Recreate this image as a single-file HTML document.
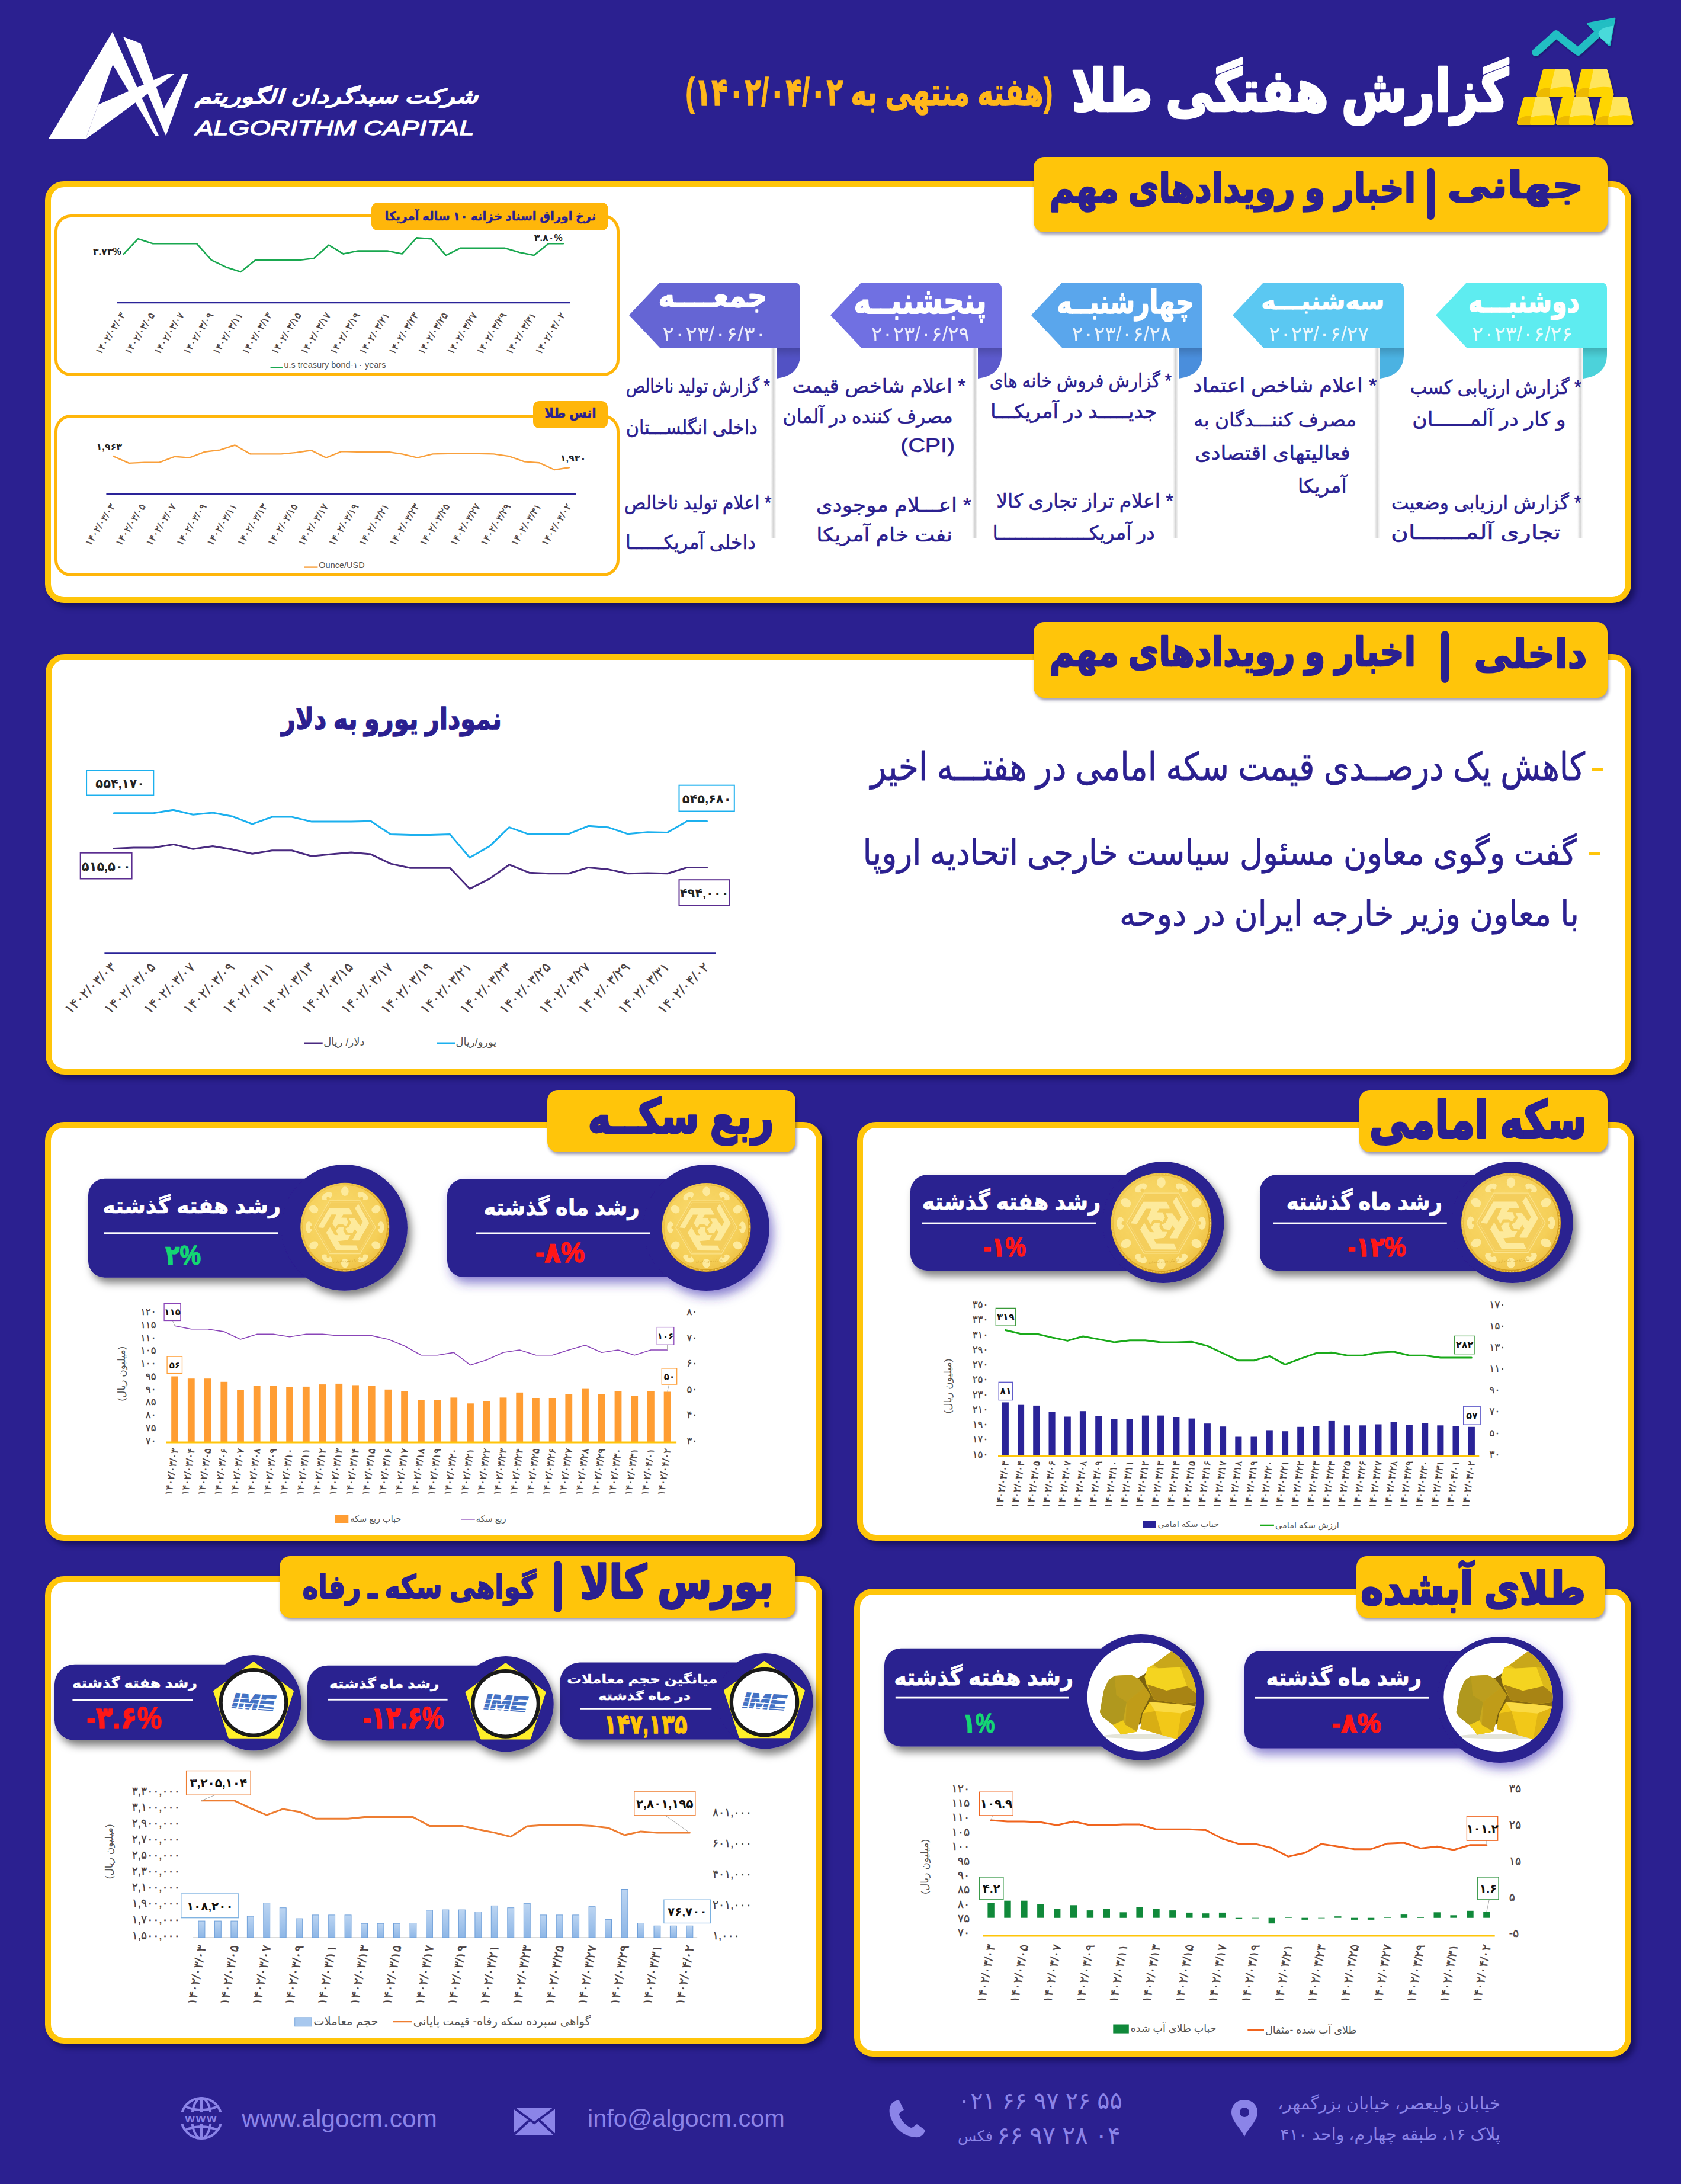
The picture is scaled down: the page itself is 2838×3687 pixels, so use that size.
<!DOCTYPE html>
<html lang="fa"><head><meta charset="utf-8"><title>گزارش هفتگی طلا</title>
<style>
html,body{margin:0;padding:0}
body{width:2838px;height:3687px;background:#2b2090;position:relative;overflow:hidden;font-family:'Liberation Sans','DejaVu Sans',sans-serif}
.b{position:absolute;box-sizing:border-box;display:block}
.t{position:absolute;display:flex;align-items:center;white-space:pre;line-height:1;box-sizing:border-box}
svg text{font-family:'Liberation Sans','DejaVu Sans',sans-serif}
</style></head><body>
<svg class="b" style="left:0.0px;top:0.0px;" width="420.0" height="260.0" viewBox="0 0 420.00 260.00"><polygon points="189.9,53.8 81.4,235.1 144.5,235.1 190.4,109.0" fill="#fff"/><polygon points="165.7,176.8 282.5,124.9 294.4,124.9 144.5,235.1" fill="#fff"/><polygon points="189.9,53.8 190.4,109.0 262.3,229.6 268.2,229.6" fill="#fff"/><polygon points="208.0,61.9 237.3,73.3 280.1,192.3 280.1,229.2" fill="#fff"/><polygon points="308.7,124.9 317.5,124.9 280.1,229.2 277.0,182.8" fill="#fff"/></svg>
<svg class="b" style="left:2540.0px;top:20.0px;" width="240.0" height="210.0" viewBox="0 0 1681 1471"><defs><filter id="sh1" x="-20%" y="-20%" width="150%" height="150%"><feDropShadow dx="8" dy="14" stdDeviation="12" flood-color="#120a50" flood-opacity=".6"/></filter></defs><g filter="url(#sh1)"><polyline points="370,480 610,265 870,470 1130,230" fill="none" stroke="#20bec3" stroke-width="92" stroke-linecap="round" stroke-linejoin="round"/><polygon points="985,140 1300,80 1240,395" fill="#20bec3" stroke="#20bec3" stroke-width="24" stroke-linejoin="round"/><path d="M1290,165 Q1110,190 1110,260 Q1120,300 1150,320 L1240,390 Z" fill="#4adada"/></g><g filter="url(#sh1)"><path d="M483,672 L732,672 Q760,672 766,700 L831,967 Q837,1005 807,1005 L403,1005 Q373,1005 379,967 L449,700 Q455,672 483,672 Z" fill="#ffd500"/><path d="M598.35,672 L732,672 Q760,672 766,700 L805,895 Q665.0,875 541.4,915 Z" fill="#ffe55c"/><path d="M379,967 Q435,885 539.4,900 L531.4,975 Q531.4,1005 551.4,1005 L403,1005 Q373,1005 379,967 Z" fill="#edb900"/><path d="M938,672 L1187,672 Q1215,672 1221,700 L1291,967 Q1297,1005 1267,1005 L863,1005 Q833,1005 839,967 L904,700 Q910,672 938,672 Z" fill="#ffd500"/><path d="M1053.35,672 L1187,672 Q1215,672 1221,700 L1265,895 Q1125.0,875 1001.4,915 Z" fill="#ffe55c"/><path d="M839,967 Q895,885 999.4,900 L991.4,975 Q991.4,1005 1011.4,1005 L863,1005 Q833,1005 839,967 Z" fill="#edb900"/><path d="M253,1005 L502,1005 Q530,1005 536,1033 L601,1300 Q607,1338 577,1338 L173,1338 Q143,1338 149,1300 L219,1033 Q225,1005 253,1005 Z" fill="#ffd500"/><path d="M368.35,1005 L502,1005 Q530,1005 536,1033 L575,1228 Q435.0,1208 311.4,1248 Z" fill="#ffe55c"/><path d="M149,1300 Q205,1218 309.4,1233 L301.4,1308 Q301.4,1338 321.4,1338 L173,1338 Q143,1338 149,1300 Z" fill="#edb900"/><path d="M708,1005 L962,1005 Q990,1005 996,1033 L1061,1300 Q1067,1338 1037,1338 L633,1338 Q603,1338 609,1300 L674,1033 Q680,1005 708,1005 Z" fill="#ffd500"/><path d="M825.7,1005 L962,1005 Q990,1005 996,1033 L1035,1228 Q895.0,1208 771.4,1248 Z" fill="#ffe55c"/><path d="M609,1300 Q665,1218 769.4,1233 L761.4,1308 Q761.4,1338 781.4,1338 L633,1338 Q603,1338 609,1300 Z" fill="#edb900"/><path d="M1168,1005 L1422,1005 Q1450,1005 1456,1033 L1521,1300 Q1527,1338 1497,1338 L1093,1338 Q1063,1338 1069,1300 L1134,1033 Q1140,1005 1168,1005 Z" fill="#ffd500"/><path d="M1285.7,1005 L1422,1005 Q1450,1005 1456,1033 L1495,1228 Q1355.0,1208 1231.4,1248 Z" fill="#ffe55c"/><path d="M1069,1300 Q1125,1218 1229.4,1233 L1221.4,1308 Q1221.4,1338 1241.4,1338 L1093,1338 Q1063,1338 1069,1300 Z" fill="#edb900"/></g></svg>
<div class="b" style="left:76.0px;top:306.0px;width:2678.0px;height:712.0px;background:#fff;border-radius:32px;border:10px solid #ffc50a;box-shadow:7px 7px 10px rgba(10,5,60,.55);"></div>
<div class="b" style="left:1745.0px;top:265.0px;width:969.0px;height:127.0px;background:#ffc50a;border-radius:18px;box-shadow:2px 4px 5px rgba(10,5,60,.4);"></div>
<div class="b" style="left:2409.0px;top:283.8px;width:13.3px;height:87.2px;background:#2b2090;border-radius:6.5px;"></div>
<div class="b" style="left:92.0px;top:362.0px;width:954.0px;height:273.0px;border-radius:28px;border:5px solid #ffb60a;"></div>
<div class="b" style="left:92.0px;top:700.0px;width:954.0px;height:273.0px;border-radius:28px;border:5px solid #ffb60a;"></div>
<div class="b" style="left:627.0px;top:342.0px;width:400.0px;height:47.0px;background:#ffb60a;border-radius:11px;"></div>
<div class="b" style="left:899.6px;top:676.7px;width:126.8px;height:46.4px;background:#ffb60a;border-radius:10px;"></div>
<svg class="b" style="left:60.0px;top:290.0px;" width="1040.0" height="740.0" viewBox="0 0 1040.00 740.00"><polyline points="148.5,139.2 173.2,113.2 198.0,121.3 222.7,121.3 247.5,121.3 272.2,121.3 297.0,149.1 321.7,160.9 346.5,168.9 371.2,149.1 396.0,149.1 420.7,149.1 445.5,149.1 470.2,146.0 495.0,123.7 519.7,138.6 544.5,133.6 569.2,133.6 593.9,133.6 618.7,138.6 643.4,111.4 668.2,113.2 692.9,141.1 717.7,128.7 742.4,128.7 767.2,128.7 791.9,128.7 816.7,136.1 841.4,141.1 866.2,121.3 890.9,121.3" fill="none" stroke="#1aa850" stroke-width="2.6" stroke-linejoin="round" stroke-linecap="round" /><line x1="137.4" x2="902.1" y1="220.9" y2="220.9" stroke="#2a2398" stroke-width="2.6"/><text transform="translate(152.5,241.9) rotate(-58)" font-size="16.5" fill="#4a4040" stroke="#4a4040" stroke-width=".3" text-anchor="end" font-weight="400" direction="ltr">۱۴۰۲/۰۳/۰۳</text><text transform="translate(202.0,241.9) rotate(-58)" font-size="16.5" fill="#4a4040" stroke="#4a4040" stroke-width=".3" text-anchor="end" font-weight="400" direction="ltr">۱۴۰۲/۰۳/۰۵</text><text transform="translate(251.5,241.9) rotate(-58)" font-size="16.5" fill="#4a4040" stroke="#4a4040" stroke-width=".3" text-anchor="end" font-weight="400" direction="ltr">۱۴۰۲/۰۳/۰۷</text><text transform="translate(301.0,241.9) rotate(-58)" font-size="16.5" fill="#4a4040" stroke="#4a4040" stroke-width=".3" text-anchor="end" font-weight="400" direction="ltr">۱۴۰۲/۰۳/۰۹</text><text transform="translate(350.5,241.9) rotate(-58)" font-size="16.5" fill="#4a4040" stroke="#4a4040" stroke-width=".3" text-anchor="end" font-weight="400" direction="ltr">۱۴۰۲/۰۳/۱۱</text><text transform="translate(400.0,241.9) rotate(-58)" font-size="16.5" fill="#4a4040" stroke="#4a4040" stroke-width=".3" text-anchor="end" font-weight="400" direction="ltr">۱۴۰۲/۰۳/۱۳</text><text transform="translate(449.5,241.9) rotate(-58)" font-size="16.5" fill="#4a4040" stroke="#4a4040" stroke-width=".3" text-anchor="end" font-weight="400" direction="ltr">۱۴۰۲/۰۳/۱۵</text><text transform="translate(499.0,241.9) rotate(-58)" font-size="16.5" fill="#4a4040" stroke="#4a4040" stroke-width=".3" text-anchor="end" font-weight="400" direction="ltr">۱۴۰۲/۰۳/۱۷</text><text transform="translate(548.5,241.9) rotate(-58)" font-size="16.5" fill="#4a4040" stroke="#4a4040" stroke-width=".3" text-anchor="end" font-weight="400" direction="ltr">۱۴۰۲/۰۳/۱۹</text><text transform="translate(597.9,241.9) rotate(-58)" font-size="16.5" fill="#4a4040" stroke="#4a4040" stroke-width=".3" text-anchor="end" font-weight="400" direction="ltr">۱۴۰۲/۰۳/۲۱</text><text transform="translate(647.4,241.9) rotate(-58)" font-size="16.5" fill="#4a4040" stroke="#4a4040" stroke-width=".3" text-anchor="end" font-weight="400" direction="ltr">۱۴۰۲/۰۳/۲۳</text><text transform="translate(696.9,241.9) rotate(-58)" font-size="16.5" fill="#4a4040" stroke="#4a4040" stroke-width=".3" text-anchor="end" font-weight="400" direction="ltr">۱۴۰۲/۰۳/۲۵</text><text transform="translate(746.4,241.9) rotate(-58)" font-size="16.5" fill="#4a4040" stroke="#4a4040" stroke-width=".3" text-anchor="end" font-weight="400" direction="ltr">۱۴۰۲/۰۳/۲۷</text><text transform="translate(795.9,241.9) rotate(-58)" font-size="16.5" fill="#4a4040" stroke="#4a4040" stroke-width=".3" text-anchor="end" font-weight="400" direction="ltr">۱۴۰۲/۰۳/۲۹</text><text transform="translate(845.4,241.9) rotate(-58)" font-size="16.5" fill="#4a4040" stroke="#4a4040" stroke-width=".3" text-anchor="end" font-weight="400" direction="ltr">۱۴۰۲/۰۳/۳۱</text><text transform="translate(894.9,241.9) rotate(-58)" font-size="16.5" fill="#4a4040" stroke="#4a4040" stroke-width=".3" text-anchor="end" font-weight="400" direction="ltr">۱۴۰۲/۰۴/۰۲</text><line x1="396.6" x2="417.6" y1="330.4" y2="330.4" stroke="#1aa850" stroke-width="2.4"/><text x="419.5" y="331.0" font-size="14.5" fill="#555" direction="ltr">u.s treasury bond-۱۰ years</text><text x="144.8" y="139.8" font-size="16" font-weight="700" fill="#222" text-anchor="end" direction="ltr">۳.۷۳%</text><text x="889.7" y="116.9" font-size="16" font-weight="700" fill="#222" text-anchor="end" direction="ltr">۳.۸۰%</text><polyline points="131.2,480.1 157.8,491.9 183.8,490.6 209.1,490.6 235.1,480.7 259.9,482.6 285.8,472.7 311.2,469.6 336.6,461.5 362.6,476.4 388.5,476.4 414.5,476.4 440.5,473.9 465.3,470.2 490.6,482.6 516.6,472.1 542.6,472.7 568.0,472.7 593.9,472.7 618.7,476.4 644.7,482.6 670.7,476.4 696.7,475.8 722.6,475.8 748.6,475.8 773.4,476.4 799.4,480.1 825.3,489.4 850.1,491.2 876.1,503.0 900.8,499.3" fill="none" stroke="#f9a03c" stroke-width="2.4" stroke-linejoin="round" stroke-linecap="round" /><line x1="119.4" x2="912.6" y1="543.8" y2="543.8" stroke="#2a2398" stroke-width="2.6"/><text transform="translate(135.2,564.9) rotate(-58)" font-size="16.5" fill="#4a4040" stroke="#4a4040" stroke-width=".3" text-anchor="end" font-weight="400" direction="ltr">۱۴۰۲/۰۳/۰۳</text><text transform="translate(186.5,564.9) rotate(-58)" font-size="16.5" fill="#4a4040" stroke="#4a4040" stroke-width=".3" text-anchor="end" font-weight="400" direction="ltr">۱۴۰۲/۰۳/۰۵</text><text transform="translate(237.9,564.9) rotate(-58)" font-size="16.5" fill="#4a4040" stroke="#4a4040" stroke-width=".3" text-anchor="end" font-weight="400" direction="ltr">۱۴۰۲/۰۳/۰۷</text><text transform="translate(289.2,564.9) rotate(-58)" font-size="16.5" fill="#4a4040" stroke="#4a4040" stroke-width=".3" text-anchor="end" font-weight="400" direction="ltr">۱۴۰۲/۰۳/۰۹</text><text transform="translate(340.6,564.9) rotate(-58)" font-size="16.5" fill="#4a4040" stroke="#4a4040" stroke-width=".3" text-anchor="end" font-weight="400" direction="ltr">۱۴۰۲/۰۳/۱۱</text><text transform="translate(391.9,564.9) rotate(-58)" font-size="16.5" fill="#4a4040" stroke="#4a4040" stroke-width=".3" text-anchor="end" font-weight="400" direction="ltr">۱۴۰۲/۰۳/۱۳</text><text transform="translate(443.3,564.9) rotate(-58)" font-size="16.5" fill="#4a4040" stroke="#4a4040" stroke-width=".3" text-anchor="end" font-weight="400" direction="ltr">۱۴۰۲/۰۳/۱۵</text><text transform="translate(494.6,564.9) rotate(-58)" font-size="16.5" fill="#4a4040" stroke="#4a4040" stroke-width=".3" text-anchor="end" font-weight="400" direction="ltr">۱۴۰۲/۰۳/۱۷</text><text transform="translate(546.0,564.9) rotate(-58)" font-size="16.5" fill="#4a4040" stroke="#4a4040" stroke-width=".3" text-anchor="end" font-weight="400" direction="ltr">۱۴۰۲/۰۳/۱۹</text><text transform="translate(597.3,564.9) rotate(-58)" font-size="16.5" fill="#4a4040" stroke="#4a4040" stroke-width=".3" text-anchor="end" font-weight="400" direction="ltr">۱۴۰۲/۰۳/۲۱</text><text transform="translate(648.7,564.9) rotate(-58)" font-size="16.5" fill="#4a4040" stroke="#4a4040" stroke-width=".3" text-anchor="end" font-weight="400" direction="ltr">۱۴۰۲/۰۳/۲۳</text><text transform="translate(700.0,564.9) rotate(-58)" font-size="16.5" fill="#4a4040" stroke="#4a4040" stroke-width=".3" text-anchor="end" font-weight="400" direction="ltr">۱۴۰۲/۰۳/۲۵</text><text transform="translate(751.4,564.9) rotate(-58)" font-size="16.5" fill="#4a4040" stroke="#4a4040" stroke-width=".3" text-anchor="end" font-weight="400" direction="ltr">۱۴۰۲/۰۳/۲۷</text><text transform="translate(802.7,564.9) rotate(-58)" font-size="16.5" fill="#4a4040" stroke="#4a4040" stroke-width=".3" text-anchor="end" font-weight="400" direction="ltr">۱۴۰۲/۰۳/۲۹</text><text transform="translate(854.1,564.9) rotate(-58)" font-size="16.5" fill="#4a4040" stroke="#4a4040" stroke-width=".3" text-anchor="end" font-weight="400" direction="ltr">۱۴۰۲/۰۳/۳۱</text><text transform="translate(905.4,564.9) rotate(-58)" font-size="16.5" fill="#4a4040" stroke="#4a4040" stroke-width=".3" text-anchor="end" font-weight="400" direction="ltr">۱۴۰۲/۰۴/۰۲</text><line x1="453.5" x2="476.4" y1="667.6" y2="667.6" stroke="#f9a03c" stroke-width="2.4"/><text x="478.3" y="669.4" font-size="14.5" fill="#555" direction="ltr">Ounce/USD</text><text x="146.0" y="470.2" font-size="16" font-weight="700" fill="#222" text-anchor="end" direction="ltr">۱,۹۶۳</text><text x="929.3" y="489.4" font-size="16" font-weight="700" fill="#222" text-anchor="end" direction="ltr">۱,۹۳۰</text></svg>
<svg class="b" style="left:0.0px;top:0.0px;pointer-events:none;" width="2838.0" height="1030.0" viewBox="0 0 2838.00 1030.00"><defs><linearGradient id="cg" x1="0" x2="0" y1="0" y2="1"><stop offset="0" stop-color="#000" stop-opacity=".18"/><stop offset=".35" stop-color="#000" stop-opacity="0"/></linearGradient><linearGradient id="vl" x1="0" x2="1" y1="0" y2="0"><stop offset="0" stop-color="#bbb" stop-opacity="0"/><stop offset=".55" stop-color="#aaa" stop-opacity=".55"/><stop offset="1" stop-color="#ddd" stop-opacity=".2"/></linearGradient></defs><rect x="1301" y="587" width="9" height="322" fill="url(#vl)"/><path d="M1311,586 L1351,586 L1351,600 Q1350,634 1311,639 Z" fill="#5252c4"/><path d="M1311,586 L1351,586 L1351,600 Q1350,634 1311,639 Z" fill="url(#cg)"/><path d="M1062,532 L1114,477 L1341,477 Q1351,477 1351,487 L1351,587 L1114,587 Z" fill="#6565d4"/><rect x="1641" y="587" width="9" height="322" fill="url(#vl)"/><path d="M1651,586 L1691,586 L1691,600 Q1690,634 1651,639 Z" fill="#5c5acc"/><path d="M1651,586 L1691,586 L1691,600 Q1690,634 1651,639 Z" fill="url(#cg)"/><path d="M1402,532 L1454,477 L1681,477 Q1691,477 1691,487 L1691,587 L1454,587 Z" fill="#7070e2"/><rect x="1980" y="587" width="9" height="322" fill="url(#vl)"/><path d="M1990,586 L2030,586 L2030,600 Q2029,634 1990,639 Z" fill="#4a8edc"/><path d="M1990,586 L2030,586 L2030,600 Q2029,634 1990,639 Z" fill="url(#cg)"/><path d="M1741,532 L1793,477 L2020,477 Q2030,477 2030,487 L2030,587 L1793,587 Z" fill="#5aa6ec"/><rect x="2320" y="587" width="9" height="322" fill="url(#vl)"/><path d="M2330,586 L2370,586 L2370,600 Q2369,634 2330,639 Z" fill="#4bb2e2"/><path d="M2330,586 L2370,586 L2370,600 Q2369,634 2330,639 Z" fill="url(#cg)"/><path d="M2081,532 L2133,477 L2360,477 Q2370,477 2370,487 L2370,587 L2133,587 Z" fill="#5bc8f2"/><rect x="2663" y="587" width="9" height="322" fill="url(#vl)"/><path d="M2673,586 L2713,586 L2713,600 Q2712,634 2673,639 Z" fill="#4cd2da"/><path d="M2673,586 L2713,586 L2713,600 Q2712,634 2673,639 Z" fill="url(#cg)"/><path d="M2424,532 L2476,477 L2703,477 Q2713,477 2713,487 L2713,587 L2476,587 Z" fill="#5eecf0"/></svg>
<div class="b" style="left:77.0px;top:1104.0px;width:2677.0px;height:710.0px;background:#fff;border-radius:32px;border:10px solid #ffc50a;box-shadow:7px 7px 10px rgba(10,5,60,.55);"></div>
<div class="b" style="left:1745.0px;top:1050.0px;width:969.0px;height:128.0px;background:#ffc50a;border-radius:18px;box-shadow:2px 4px 5px rgba(10,5,60,.4);"></div>
<div class="b" style="left:2433.0px;top:1065.0px;width:13.0px;height:88.0px;background:#2b2090;border-radius:6.5px;"></div>
<div class="b" style="left:2688.0px;top:1297.0px;width:18.0px;height:5.0px;background:#ffc50a;"></div>
<div class="b" style="left:2683.0px;top:1438.0px;width:19.0px;height:5.0px;background:#ffc50a;"></div>
<svg class="b" style="left:60.0px;top:1030.0px;" width="1340.0" height="800.0" viewBox="0 0 1340.00 800.00"><polyline points="132.3,342.8 165.7,342.8 199.1,342.8 232.4,337.2 265.8,345.2 299.2,342.0 332.6,348.3 365.9,361.1 399.3,349.1 432.7,349.1 466.1,357.1 499.4,357.1 532.8,357.1 566.2,356.3 599.5,378.6 632.9,379.4 666.3,379.4 699.7,378.6 733.0,417.7 766.4,398.6 799.8,366.7 833.2,378.6 866.5,377.8 899.9,377.8 933.3,364.3 966.7,366.7 1000.0,377.8 1033.4,374.7 1066.8,375.4 1100.1,356.3 1133.5,356.3" fill="none" stroke="#1cb0ee" stroke-width="3" stroke-linejoin="round" stroke-linecap="round" /><polyline points="132.3,402.6 165.7,401.0 199.1,401.0 232.4,395.4 265.8,403.3 299.2,398.6 332.6,404.1 365.9,411.3 399.3,405.7 432.7,405.7 466.1,415.3 499.4,412.1 532.8,408.9 566.2,412.1 599.5,428.1 632.9,435.2 666.3,435.2 699.7,435.2 733.0,470.3 766.4,453.6 799.8,429.7 833.2,443.2 866.5,444.8 899.9,444.8 933.3,434.4 966.7,437.6 1000.0,444.8 1033.4,444.0 1066.8,444.8 1100.1,434.4 1133.5,434.4" fill="none" stroke="#4a2a80" stroke-width="3" stroke-linejoin="round" stroke-linecap="round" /><line x1="116.4" x2="1148.7" y1="578.7" y2="578.7" stroke="#2a2398" stroke-width="3"/><text transform="translate(137.3,604.2) rotate(-45)" font-size="23" fill="#4a4040" stroke="#4a4040" stroke-width=".3" text-anchor="end" font-weight="400" direction="ltr">۱۴۰۲/۰۳/۰۳</text><text transform="translate(204.1,604.2) rotate(-45)" font-size="23" fill="#4a4040" stroke="#4a4040" stroke-width=".3" text-anchor="end" font-weight="400" direction="ltr">۱۴۰۲/۰۳/۰۵</text><text transform="translate(270.8,604.2) rotate(-45)" font-size="23" fill="#4a4040" stroke="#4a4040" stroke-width=".3" text-anchor="end" font-weight="400" direction="ltr">۱۴۰۲/۰۳/۰۷</text><text transform="translate(337.6,604.2) rotate(-45)" font-size="23" fill="#4a4040" stroke="#4a4040" stroke-width=".3" text-anchor="end" font-weight="400" direction="ltr">۱۴۰۲/۰۳/۰۹</text><text transform="translate(404.3,604.2) rotate(-45)" font-size="23" fill="#4a4040" stroke="#4a4040" stroke-width=".3" text-anchor="end" font-weight="400" direction="ltr">۱۴۰۲/۰۳/۱۱</text><text transform="translate(471.1,604.2) rotate(-45)" font-size="23" fill="#4a4040" stroke="#4a4040" stroke-width=".3" text-anchor="end" font-weight="400" direction="ltr">۱۴۰۲/۰۳/۱۳</text><text transform="translate(537.8,604.2) rotate(-45)" font-size="23" fill="#4a4040" stroke="#4a4040" stroke-width=".3" text-anchor="end" font-weight="400" direction="ltr">۱۴۰۲/۰۳/۱۵</text><text transform="translate(604.5,604.2) rotate(-45)" font-size="23" fill="#4a4040" stroke="#4a4040" stroke-width=".3" text-anchor="end" font-weight="400" direction="ltr">۱۴۰۲/۰۳/۱۷</text><text transform="translate(671.3,604.2) rotate(-45)" font-size="23" fill="#4a4040" stroke="#4a4040" stroke-width=".3" text-anchor="end" font-weight="400" direction="ltr">۱۴۰۲/۰۳/۱۹</text><text transform="translate(738.0,604.2) rotate(-45)" font-size="23" fill="#4a4040" stroke="#4a4040" stroke-width=".3" text-anchor="end" font-weight="400" direction="ltr">۱۴۰۲/۰۳/۲۱</text><text transform="translate(804.8,604.2) rotate(-45)" font-size="23" fill="#4a4040" stroke="#4a4040" stroke-width=".3" text-anchor="end" font-weight="400" direction="ltr">۱۴۰۲/۰۳/۲۳</text><text transform="translate(871.5,604.2) rotate(-45)" font-size="23" fill="#4a4040" stroke="#4a4040" stroke-width=".3" text-anchor="end" font-weight="400" direction="ltr">۱۴۰۲/۰۳/۲۵</text><text transform="translate(938.3,604.2) rotate(-45)" font-size="23" fill="#4a4040" stroke="#4a4040" stroke-width=".3" text-anchor="end" font-weight="400" direction="ltr">۱۴۰۲/۰۳/۲۷</text><text transform="translate(1005.0,604.2) rotate(-45)" font-size="23" fill="#4a4040" stroke="#4a4040" stroke-width=".3" text-anchor="end" font-weight="400" direction="ltr">۱۴۰۲/۰۳/۲۹</text><text transform="translate(1071.8,604.2) rotate(-45)" font-size="23" fill="#4a4040" stroke="#4a4040" stroke-width=".3" text-anchor="end" font-weight="400" direction="ltr">۱۴۰۲/۰۳/۳۱</text><text transform="translate(1138.5,604.2) rotate(-45)" font-size="23" fill="#4a4040" stroke="#4a4040" stroke-width=".3" text-anchor="end" font-weight="400" direction="ltr">۱۴۰۲/۰۴/۰۲</text><rect x="86.1" y="271.0" width="113.2" height="41.5" fill="#fff" stroke="#1cb0ee" stroke-width="2"/><text x="142.7" y="299.7" font-size="21" font-weight="700" fill="#222" text-anchor="middle" direction="ltr">۵۵۴,۱۷۰</text><rect x="1086.5" y="295.7" width="93.3" height="43.8" fill="#fff" stroke="#1cb0ee" stroke-width="2"/><text x="1133.1" y="325.7" font-size="21" font-weight="700" fill="#222" text-anchor="middle" direction="ltr">۵۴۵,۶۸۰</text><rect x="75.7" y="409.7" width="86.9" height="43.8" fill="#fff" stroke="#5b2d90" stroke-width="2"/><text x="119.2" y="439.6" font-size="21" font-weight="700" fill="#222" text-anchor="middle" direction="ltr">۵۱۵,۵۰۰</text><rect x="1086.5" y="455.2" width="85.3" height="43.0" fill="#fff" stroke="#5b2d90" stroke-width="2"/><text x="1129.1" y="484.7" font-size="21" font-weight="700" fill="#222" text-anchor="middle" direction="ltr">۴۹۴,۰۰۰</text><line x1="453.6" x2="484.7" y1="731.0" y2="731.0" stroke="#4a2a80" stroke-width="3"/><text x="486.2" y="735.0" font-size="18" fill="#555" direction="rtl" text-anchor="end">دلار/ ریال</text><line x1="677.6" x2="708.6" y1="731.0" y2="731.0" stroke="#1cb0ee" stroke-width="3"/><text x="709.4" y="735.0" font-size="18" fill="#555" direction="rtl" text-anchor="end">یورو/ریال</text></svg>
<div class="b" style="left:1447.0px;top:1894.0px;width:1312.0px;height:706.5px;background:#fff;border-radius:32px;border:10px solid #ffc50a;box-shadow:7px 7px 10px rgba(10,5,60,.55);"></div>
<div class="b" style="left:2295.0px;top:1840.0px;width:419.0px;height:104.5px;background:#ffc50a;border-radius:18px;box-shadow:2px 4px 5px rgba(10,5,60,.4);"></div>
<svg class="b" style="left:1540.0px;top:2160.0px;" width="1180.0" height="430.0" viewBox="0 0 1180.00 430.00"><rect x="151.8" y="207.4" width="11.1" height="90.3" fill="#2a2398"/><rect x="178.0" y="211.7" width="11.1" height="86.0" fill="#2a2398"/><rect x="204.2" y="212.9" width="11.1" height="84.8" fill="#2a2398"/><rect x="230.5" y="223.5" width="11.1" height="74.2" fill="#2a2398"/><rect x="256.7" y="231.5" width="11.1" height="66.2" fill="#2a2398"/><rect x="282.9" y="222.2" width="11.1" height="75.5" fill="#2a2398"/><rect x="309.2" y="230.3" width="11.1" height="67.4" fill="#2a2398"/><rect x="335.4" y="235.2" width="11.1" height="62.5" fill="#2a2398"/><rect x="361.6" y="235.2" width="11.1" height="62.5" fill="#2a2398"/><rect x="387.9" y="229.6" width="11.1" height="68.1" fill="#2a2398"/><rect x="414.1" y="229.6" width="11.1" height="68.1" fill="#2a2398"/><rect x="440.3" y="232.1" width="11.1" height="65.6" fill="#2a2398"/><rect x="466.6" y="234.6" width="11.1" height="63.1" fill="#2a2398"/><rect x="492.8" y="243.2" width="11.1" height="54.4" fill="#2a2398"/><rect x="519.0" y="248.2" width="11.1" height="49.5" fill="#2a2398"/><rect x="545.3" y="265.5" width="11.1" height="32.2" fill="#2a2398"/><rect x="571.5" y="265.5" width="11.1" height="32.2" fill="#2a2398"/><rect x="597.7" y="254.4" width="11.1" height="43.3" fill="#2a2398"/><rect x="624.0" y="256.2" width="11.1" height="41.5" fill="#2a2398"/><rect x="650.2" y="248.8" width="11.1" height="48.9" fill="#2a2398"/><rect x="676.4" y="247.0" width="11.1" height="50.7" fill="#2a2398"/><rect x="702.7" y="238.9" width="11.1" height="58.8" fill="#2a2398"/><rect x="728.9" y="246.3" width="11.1" height="51.4" fill="#2a2398"/><rect x="755.1" y="246.3" width="11.1" height="51.4" fill="#2a2398"/><rect x="781.4" y="244.5" width="11.1" height="53.2" fill="#2a2398"/><rect x="807.6" y="240.8" width="11.1" height="56.9" fill="#2a2398"/><rect x="833.8" y="245.1" width="11.1" height="52.6" fill="#2a2398"/><rect x="860.1" y="242.6" width="11.1" height="55.1" fill="#2a2398"/><rect x="886.3" y="246.3" width="11.1" height="51.4" fill="#2a2398"/><rect x="912.5" y="247.0" width="11.1" height="50.7" fill="#2a2398"/><rect x="938.8" y="248.8" width="11.1" height="48.9" fill="#2a2398"/><line x1="145.0" x2="957.3" y1="297.7" y2="297.7" stroke="#ffc50a" stroke-width="3"/><polyline points="157.4,85.5 183.6,91.7 209.8,91.7 236.0,97.9 262.3,103.4 288.5,96.0 314.7,100.9 341.0,105.9 367.2,102.8 393.4,102.8 419.7,105.9 445.9,105.9 472.1,105.3 498.4,112.1 524.6,124.5 550.8,136.8 577.1,136.8 603.3,129.4 629.5,143.6 655.8,133.7 682.0,124.5 708.2,123.2 734.5,128.2 760.7,128.2 786.9,123.2 813.2,122.0 839.4,128.2 865.6,128.2 891.9,131.9 918.1,131.9 944.3,131.9" fill="none" stroke="#1aaa1a" stroke-width="3" stroke-linejoin="round" stroke-linecap="round" /><text x="128.3" y="48.1" font-size="16.5" fill="#4a4040" stroke="#4a4040" stroke-width=".3" text-anchor="end" direction="ltr">۳۵۰</text><text x="128.3" y="73.4" font-size="16.5" fill="#4a4040" stroke="#4a4040" stroke-width=".3" text-anchor="end" direction="ltr">۳۳۰</text><text x="128.3" y="98.6" font-size="16.5" fill="#4a4040" stroke="#4a4040" stroke-width=".3" text-anchor="end" direction="ltr">۳۱۰</text><text x="128.3" y="123.8" font-size="16.5" fill="#4a4040" stroke="#4a4040" stroke-width=".3" text-anchor="end" direction="ltr">۲۹۰</text><text x="128.3" y="149.1" font-size="16.5" fill="#4a4040" stroke="#4a4040" stroke-width=".3" text-anchor="end" direction="ltr">۲۷۰</text><text x="128.3" y="174.3" font-size="16.5" fill="#4a4040" stroke="#4a4040" stroke-width=".3" text-anchor="end" direction="ltr">۲۵۰</text><text x="128.3" y="199.6" font-size="16.5" fill="#4a4040" stroke="#4a4040" stroke-width=".3" text-anchor="end" direction="ltr">۲۳۰</text><text x="128.3" y="224.8" font-size="16.5" fill="#4a4040" stroke="#4a4040" stroke-width=".3" text-anchor="end" direction="ltr">۲۱۰</text><text x="128.3" y="250.1" font-size="16.5" fill="#4a4040" stroke="#4a4040" stroke-width=".3" text-anchor="end" direction="ltr">۱۹۰</text><text x="128.3" y="275.3" font-size="16.5" fill="#4a4040" stroke="#4a4040" stroke-width=".3" text-anchor="end" direction="ltr">۱۷۰</text><text x="128.3" y="300.5" font-size="16.5" fill="#4a4040" stroke="#4a4040" stroke-width=".3" text-anchor="end" direction="ltr">۱۵۰</text><text x="974.6" y="48.1" font-size="16.5" fill="#4a4040" stroke="#4a4040" stroke-width=".3" text-anchor="start" direction="ltr">۱۷۰</text><text x="974.6" y="84.2" font-size="16.5" fill="#4a4040" stroke="#4a4040" stroke-width=".3" text-anchor="start" direction="ltr">۱۵۰</text><text x="974.6" y="120.2" font-size="16.5" fill="#4a4040" stroke="#4a4040" stroke-width=".3" text-anchor="start" direction="ltr">۱۳۰</text><text x="974.6" y="156.3" font-size="16.5" fill="#4a4040" stroke="#4a4040" stroke-width=".3" text-anchor="start" direction="ltr">۱۱۰</text><text x="974.6" y="192.4" font-size="16.5" fill="#4a4040" stroke="#4a4040" stroke-width=".3" text-anchor="start" direction="ltr">۹۰</text><text x="974.6" y="228.4" font-size="16.5" fill="#4a4040" stroke="#4a4040" stroke-width=".3" text-anchor="start" direction="ltr">۷۰</text><text x="974.6" y="264.5" font-size="16.5" fill="#4a4040" stroke="#4a4040" stroke-width=".3" text-anchor="start" direction="ltr">۵۰</text><text x="974.6" y="300.5" font-size="16.5" fill="#4a4040" stroke="#4a4040" stroke-width=".3" text-anchor="start" direction="ltr">۳۰</text><text transform="translate(163.3,307.0) rotate(-82)" font-size="16.5" fill="#4a4040" stroke="#4a4040" stroke-width=".35" text-anchor="end" direction="ltr">۱۴۰۲/۰۳/۰۳</text><text transform="translate(189.5,307.0) rotate(-82)" font-size="16.5" fill="#4a4040" stroke="#4a4040" stroke-width=".35" text-anchor="end" direction="ltr">۱۴۰۲/۰۳/۰۴</text><text transform="translate(215.8,307.0) rotate(-82)" font-size="16.5" fill="#4a4040" stroke="#4a4040" stroke-width=".35" text-anchor="end" direction="ltr">۱۴۰۲/۰۳/۰۵</text><text transform="translate(242.0,307.0) rotate(-82)" font-size="16.5" fill="#4a4040" stroke="#4a4040" stroke-width=".35" text-anchor="end" direction="ltr">۱۴۰۲/۰۳/۰۶</text><text transform="translate(268.2,307.0) rotate(-82)" font-size="16.5" fill="#4a4040" stroke="#4a4040" stroke-width=".35" text-anchor="end" direction="ltr">۱۴۰۲/۰۳/۰۷</text><text transform="translate(294.5,307.0) rotate(-82)" font-size="16.5" fill="#4a4040" stroke="#4a4040" stroke-width=".35" text-anchor="end" direction="ltr">۱۴۰۲/۰۳/۰۸</text><text transform="translate(320.7,307.0) rotate(-82)" font-size="16.5" fill="#4a4040" stroke="#4a4040" stroke-width=".35" text-anchor="end" direction="ltr">۱۴۰۲/۰۳/۰۹</text><text transform="translate(346.9,307.0) rotate(-82)" font-size="16.5" fill="#4a4040" stroke="#4a4040" stroke-width=".35" text-anchor="end" direction="ltr">۱۴۰۲/۰۳/۱۰</text><text transform="translate(373.2,307.0) rotate(-82)" font-size="16.5" fill="#4a4040" stroke="#4a4040" stroke-width=".35" text-anchor="end" direction="ltr">۱۴۰۲/۰۳/۱۱</text><text transform="translate(399.4,307.0) rotate(-82)" font-size="16.5" fill="#4a4040" stroke="#4a4040" stroke-width=".35" text-anchor="end" direction="ltr">۱۴۰۲/۰۳/۱۲</text><text transform="translate(425.6,307.0) rotate(-82)" font-size="16.5" fill="#4a4040" stroke="#4a4040" stroke-width=".35" text-anchor="end" direction="ltr">۱۴۰۲/۰۳/۱۳</text><text transform="translate(451.9,307.0) rotate(-82)" font-size="16.5" fill="#4a4040" stroke="#4a4040" stroke-width=".35" text-anchor="end" direction="ltr">۱۴۰۲/۰۳/۱۴</text><text transform="translate(478.1,307.0) rotate(-82)" font-size="16.5" fill="#4a4040" stroke="#4a4040" stroke-width=".35" text-anchor="end" direction="ltr">۱۴۰۲/۰۳/۱۵</text><text transform="translate(504.3,307.0) rotate(-82)" font-size="16.5" fill="#4a4040" stroke="#4a4040" stroke-width=".35" text-anchor="end" direction="ltr">۱۴۰۲/۰۳/۱۶</text><text transform="translate(530.5,307.0) rotate(-82)" font-size="16.5" fill="#4a4040" stroke="#4a4040" stroke-width=".35" text-anchor="end" direction="ltr">۱۴۰۲/۰۳/۱۷</text><text transform="translate(556.8,307.0) rotate(-82)" font-size="16.5" fill="#4a4040" stroke="#4a4040" stroke-width=".35" text-anchor="end" direction="ltr">۱۴۰۲/۰۳/۱۸</text><text transform="translate(583.0,307.0) rotate(-82)" font-size="16.5" fill="#4a4040" stroke="#4a4040" stroke-width=".35" text-anchor="end" direction="ltr">۱۴۰۲/۰۳/۱۹</text><text transform="translate(609.2,307.0) rotate(-82)" font-size="16.5" fill="#4a4040" stroke="#4a4040" stroke-width=".35" text-anchor="end" direction="ltr">۱۴۰۲/۰۳/۲۰</text><text transform="translate(635.5,307.0) rotate(-82)" font-size="16.5" fill="#4a4040" stroke="#4a4040" stroke-width=".35" text-anchor="end" direction="ltr">۱۴۰۲/۰۳/۲۱</text><text transform="translate(661.7,307.0) rotate(-82)" font-size="16.5" fill="#4a4040" stroke="#4a4040" stroke-width=".35" text-anchor="end" direction="ltr">۱۴۰۲/۰۳/۲۲</text><text transform="translate(687.9,307.0) rotate(-82)" font-size="16.5" fill="#4a4040" stroke="#4a4040" stroke-width=".35" text-anchor="end" direction="ltr">۱۴۰۲/۰۳/۲۳</text><text transform="translate(714.2,307.0) rotate(-82)" font-size="16.5" fill="#4a4040" stroke="#4a4040" stroke-width=".35" text-anchor="end" direction="ltr">۱۴۰۲/۰۳/۲۴</text><text transform="translate(740.4,307.0) rotate(-82)" font-size="16.5" fill="#4a4040" stroke="#4a4040" stroke-width=".35" text-anchor="end" direction="ltr">۱۴۰۲/۰۳/۲۵</text><text transform="translate(766.6,307.0) rotate(-82)" font-size="16.5" fill="#4a4040" stroke="#4a4040" stroke-width=".35" text-anchor="end" direction="ltr">۱۴۰۲/۰۳/۲۶</text><text transform="translate(792.9,307.0) rotate(-82)" font-size="16.5" fill="#4a4040" stroke="#4a4040" stroke-width=".35" text-anchor="end" direction="ltr">۱۴۰۲/۰۳/۲۷</text><text transform="translate(819.1,307.0) rotate(-82)" font-size="16.5" fill="#4a4040" stroke="#4a4040" stroke-width=".35" text-anchor="end" direction="ltr">۱۴۰۲/۰۳/۲۸</text><text transform="translate(845.3,307.0) rotate(-82)" font-size="16.5" fill="#4a4040" stroke="#4a4040" stroke-width=".35" text-anchor="end" direction="ltr">۱۴۰۲/۰۳/۲۹</text><text transform="translate(871.6,307.0) rotate(-82)" font-size="16.5" fill="#4a4040" stroke="#4a4040" stroke-width=".35" text-anchor="end" direction="ltr">۱۴۰۲/۰۳/۳۰</text><text transform="translate(897.8,307.0) rotate(-82)" font-size="16.5" fill="#4a4040" stroke="#4a4040" stroke-width=".35" text-anchor="end" direction="ltr">۱۴۰۲/۰۳/۳۱</text><text transform="translate(924.0,307.0) rotate(-82)" font-size="16.5" fill="#4a4040" stroke="#4a4040" stroke-width=".35" text-anchor="end" direction="ltr">۱۴۰۲/۰۴/۰۱</text><text transform="translate(950.3,307.0) rotate(-82)" font-size="16.5" fill="#4a4040" stroke="#4a4040" stroke-width=".35" text-anchor="end" direction="ltr">۱۴۰۲/۰۴/۰۲</text><rect x="141.3" y="48.4" width="33.4" height="29.7" fill="#fff" stroke="#3a9a3a" stroke-width="1.3"/><text x="158.0" y="69.0" font-size="16" font-weight="700" fill="#111" text-anchor="middle" direction="ltr">۳۱۹</text><rect x="915.3" y="95.4" width="34.6" height="30.3" fill="#fff" stroke="#3a9a3a" stroke-width="1.3"/><text x="932.6" y="116.3" font-size="16" font-weight="700" fill="#111" text-anchor="middle" direction="ltr">۲۸۲</text><rect x="146.2" y="173.3" width="23.5" height="30.3" fill="#fff" stroke="#5a55c8" stroke-width="1.3"/><text x="158.0" y="194.3" font-size="16" font-weight="700" fill="#111" text-anchor="middle" direction="ltr">۸۱</text><rect x="930.7" y="214.2" width="28.5" height="30.9" fill="#fff" stroke="#5a55c8" stroke-width="1.3"/><text x="945.0" y="235.4" font-size="16" font-weight="700" fill="#111" text-anchor="middle" direction="ltr">۵۷</text><text transform="translate(65.8,180.1) rotate(-90)" font-size="17" fill="#555" text-anchor="middle" direction="rtl">(میلیون ریال)</text><rect x="390.0" y="407.8" width="21.7" height="11.8" fill="#2a2398"/><text x="414.6" y="418.0" font-size="14.5" fill="#555" direction="rtl" text-anchor="end">حباب سکه  امامی</text><line x1="588.0" x2="610.9" y1="415.2" y2="415.2" stroke="#1aaa1a" stroke-width="3"/><text x="612.9" y="419.6" font-size="14.5" fill="#555" direction="rtl" text-anchor="end">ارزش سکه امامی</text></svg>
<div class="b" style="left:76.0px;top:1894.0px;width:1312.0px;height:706.5px;background:#fff;border-radius:32px;border:10px solid #ffc50a;box-shadow:7px 7px 10px rgba(10,5,60,.55);"></div>
<div class="b" style="left:924.0px;top:1840.0px;width:419.0px;height:104.5px;background:#ffc50a;border-radius:18px;box-shadow:2px 4px 5px rgba(10,5,60,.4);"></div>
<svg class="b" style="left:170.0px;top:2170.0px;" width="1070.0" height="420.0" viewBox="0 0 1070.00 420.00"><rect x="119.2" y="153.5" width="11.8" height="111.4" fill="#ff9d33"/><rect x="146.9" y="157.2" width="11.8" height="107.7" fill="#ff9d33"/><rect x="174.6" y="157.2" width="11.8" height="107.7" fill="#ff9d33"/><rect x="202.4" y="162.8" width="11.8" height="102.1" fill="#ff9d33"/><rect x="230.1" y="176.4" width="11.8" height="88.5" fill="#ff9d33"/><rect x="257.8" y="169.0" width="11.8" height="95.9" fill="#ff9d33"/><rect x="285.5" y="169.0" width="11.8" height="95.9" fill="#ff9d33"/><rect x="313.2" y="171.5" width="11.8" height="93.4" fill="#ff9d33"/><rect x="340.9" y="170.9" width="11.8" height="94.0" fill="#ff9d33"/><rect x="368.7" y="167.1" width="11.8" height="97.8" fill="#ff9d33"/><rect x="396.4" y="165.9" width="11.8" height="99.0" fill="#ff9d33"/><rect x="424.1" y="168.4" width="11.8" height="96.5" fill="#ff9d33"/><rect x="451.8" y="169.0" width="11.8" height="95.9" fill="#ff9d33"/><rect x="479.5" y="175.8" width="11.8" height="89.1" fill="#ff9d33"/><rect x="507.2" y="178.3" width="11.8" height="86.6" fill="#ff9d33"/><rect x="535.0" y="193.8" width="11.8" height="71.2" fill="#ff9d33"/><rect x="562.7" y="193.8" width="11.8" height="71.2" fill="#ff9d33"/><rect x="590.4" y="189.4" width="11.8" height="75.5" fill="#ff9d33"/><rect x="618.1" y="199.3" width="11.8" height="65.6" fill="#ff9d33"/><rect x="645.8" y="195.0" width="11.8" height="69.9" fill="#ff9d33"/><rect x="673.6" y="189.4" width="11.8" height="75.5" fill="#ff9d33"/><rect x="701.3" y="180.8" width="11.8" height="84.1" fill="#ff9d33"/><rect x="729.0" y="190.0" width="11.8" height="74.9" fill="#ff9d33"/><rect x="756.7" y="190.0" width="11.8" height="74.9" fill="#ff9d33"/><rect x="784.4" y="183.9" width="11.8" height="81.0" fill="#ff9d33"/><rect x="812.1" y="174.6" width="11.8" height="90.3" fill="#ff9d33"/><rect x="839.9" y="183.9" width="11.8" height="81.0" fill="#ff9d33"/><rect x="867.6" y="178.3" width="11.8" height="86.6" fill="#ff9d33"/><rect x="895.3" y="186.9" width="11.8" height="78.0" fill="#ff9d33"/><rect x="923.0" y="178.3" width="11.8" height="86.6" fill="#ff9d33"/><rect x="950.7" y="179.5" width="11.8" height="85.4" fill="#ff9d33"/><line x1="110.8" x2="972.1" y1="264.9" y2="264.9" stroke="#ffc50a" stroke-width="3"/><polyline points="125.1,68.2 152.8,73.7 180.5,73.7 208.2,78.1 235.9,91.0 263.7,82.4 291.4,82.4 319.1,86.7 346.8,82.4 374.5,82.4 402.3,84.9 430.0,84.9 457.7,84.9 485.4,91.0 513.1,102.2 540.8,117.7 568.6,117.7 596.3,113.3 624.0,134.4 651.7,125.7 679.4,113.3 707.1,109.0 734.9,117.7 762.6,117.7 790.3,109.0 818.0,100.9 845.7,113.3 873.5,109.0 901.2,117.7 928.9,109.0 956.6,109.0" fill="none" stroke="#8a44b8" stroke-width="1.6" stroke-linejoin="round" stroke-linecap="round" /><text x="93.5" y="50.0" font-size="16.5" fill="#4a4040" stroke="#4a4040" stroke-width=".3" text-anchor="end" direction="ltr">۱۲۰</text><text x="93.5" y="71.7" font-size="16.5" fill="#4a4040" stroke="#4a4040" stroke-width=".3" text-anchor="end" direction="ltr">۱۱۵</text><text x="93.5" y="93.5" font-size="16.5" fill="#4a4040" stroke="#4a4040" stroke-width=".3" text-anchor="end" direction="ltr">۱۱۰</text><text x="93.5" y="115.3" font-size="16.5" fill="#4a4040" stroke="#4a4040" stroke-width=".3" text-anchor="end" direction="ltr">۱۰۵</text><text x="93.5" y="137.1" font-size="16.5" fill="#4a4040" stroke="#4a4040" stroke-width=".3" text-anchor="end" direction="ltr">۱۰۰</text><text x="93.5" y="158.9" font-size="16.5" fill="#4a4040" stroke="#4a4040" stroke-width=".3" text-anchor="end" direction="ltr">۹۵</text><text x="93.5" y="180.6" font-size="16.5" fill="#4a4040" stroke="#4a4040" stroke-width=".3" text-anchor="end" direction="ltr">۹۰</text><text x="93.5" y="202.4" font-size="16.5" fill="#4a4040" stroke="#4a4040" stroke-width=".3" text-anchor="end" direction="ltr">۸۵</text><text x="93.5" y="224.2" font-size="16.5" fill="#4a4040" stroke="#4a4040" stroke-width=".3" text-anchor="end" direction="ltr">۸۰</text><text x="93.5" y="246.0" font-size="16.5" fill="#4a4040" stroke="#4a4040" stroke-width=".3" text-anchor="end" direction="ltr">۷۵</text><text x="93.5" y="267.7" font-size="16.5" fill="#4a4040" stroke="#4a4040" stroke-width=".3" text-anchor="end" direction="ltr">۷۰</text><text x="989.4" y="50.0" font-size="16.5" fill="#4a4040" stroke="#4a4040" stroke-width=".3" text-anchor="start" direction="ltr">۸۰</text><text x="989.4" y="93.5" font-size="16.5" fill="#4a4040" stroke="#4a4040" stroke-width=".3" text-anchor="start" direction="ltr">۷۰</text><text x="989.4" y="137.1" font-size="16.5" fill="#4a4040" stroke="#4a4040" stroke-width=".3" text-anchor="start" direction="ltr">۶۰</text><text x="989.4" y="180.6" font-size="16.5" fill="#4a4040" stroke="#4a4040" stroke-width=".3" text-anchor="start" direction="ltr">۵۰</text><text x="989.4" y="224.2" font-size="16.5" fill="#4a4040" stroke="#4a4040" stroke-width=".3" text-anchor="start" direction="ltr">۴۰</text><text x="989.4" y="267.7" font-size="16.5" fill="#4a4040" stroke="#4a4040" stroke-width=".3" text-anchor="start" direction="ltr">۳۰</text><text transform="translate(131.0,276.0) rotate(-82)" font-size="16.5" fill="#4a4040" stroke="#4a4040" stroke-width=".35" text-anchor="end" direction="ltr">۱۴۰۲/۰۳/۰۳</text><text transform="translate(158.7,276.0) rotate(-82)" font-size="16.5" fill="#4a4040" stroke="#4a4040" stroke-width=".35" text-anchor="end" direction="ltr">۱۴۰۲/۰۳/۰۴</text><text transform="translate(186.5,276.0) rotate(-82)" font-size="16.5" fill="#4a4040" stroke="#4a4040" stroke-width=".35" text-anchor="end" direction="ltr">۱۴۰۲/۰۳/۰۵</text><text transform="translate(214.2,276.0) rotate(-82)" font-size="16.5" fill="#4a4040" stroke="#4a4040" stroke-width=".35" text-anchor="end" direction="ltr">۱۴۰۲/۰۳/۰۶</text><text transform="translate(241.9,276.0) rotate(-82)" font-size="16.5" fill="#4a4040" stroke="#4a4040" stroke-width=".35" text-anchor="end" direction="ltr">۱۴۰۲/۰۳/۰۷</text><text transform="translate(269.6,276.0) rotate(-82)" font-size="16.5" fill="#4a4040" stroke="#4a4040" stroke-width=".35" text-anchor="end" direction="ltr">۱۴۰۲/۰۳/۰۸</text><text transform="translate(297.3,276.0) rotate(-82)" font-size="16.5" fill="#4a4040" stroke="#4a4040" stroke-width=".35" text-anchor="end" direction="ltr">۱۴۰۲/۰۳/۰۹</text><text transform="translate(325.0,276.0) rotate(-82)" font-size="16.5" fill="#4a4040" stroke="#4a4040" stroke-width=".35" text-anchor="end" direction="ltr">۱۴۰۲/۰۳/۱۰</text><text transform="translate(352.8,276.0) rotate(-82)" font-size="16.5" fill="#4a4040" stroke="#4a4040" stroke-width=".35" text-anchor="end" direction="ltr">۱۴۰۲/۰۳/۱۱</text><text transform="translate(380.5,276.0) rotate(-82)" font-size="16.5" fill="#4a4040" stroke="#4a4040" stroke-width=".35" text-anchor="end" direction="ltr">۱۴۰۲/۰۳/۱۲</text><text transform="translate(408.2,276.0) rotate(-82)" font-size="16.5" fill="#4a4040" stroke="#4a4040" stroke-width=".35" text-anchor="end" direction="ltr">۱۴۰۲/۰۳/۱۳</text><text transform="translate(435.9,276.0) rotate(-82)" font-size="16.5" fill="#4a4040" stroke="#4a4040" stroke-width=".35" text-anchor="end" direction="ltr">۱۴۰۲/۰۳/۱۴</text><text transform="translate(463.6,276.0) rotate(-82)" font-size="16.5" fill="#4a4040" stroke="#4a4040" stroke-width=".35" text-anchor="end" direction="ltr">۱۴۰۲/۰۳/۱۵</text><text transform="translate(491.3,276.0) rotate(-82)" font-size="16.5" fill="#4a4040" stroke="#4a4040" stroke-width=".35" text-anchor="end" direction="ltr">۱۴۰۲/۰۳/۱۶</text><text transform="translate(519.1,276.0) rotate(-82)" font-size="16.5" fill="#4a4040" stroke="#4a4040" stroke-width=".35" text-anchor="end" direction="ltr">۱۴۰۲/۰۳/۱۷</text><text transform="translate(546.8,276.0) rotate(-82)" font-size="16.5" fill="#4a4040" stroke="#4a4040" stroke-width=".35" text-anchor="end" direction="ltr">۱۴۰۲/۰۳/۱۸</text><text transform="translate(574.5,276.0) rotate(-82)" font-size="16.5" fill="#4a4040" stroke="#4a4040" stroke-width=".35" text-anchor="end" direction="ltr">۱۴۰۲/۰۳/۱۹</text><text transform="translate(602.2,276.0) rotate(-82)" font-size="16.5" fill="#4a4040" stroke="#4a4040" stroke-width=".35" text-anchor="end" direction="ltr">۱۴۰۲/۰۳/۲۰</text><text transform="translate(629.9,276.0) rotate(-82)" font-size="16.5" fill="#4a4040" stroke="#4a4040" stroke-width=".35" text-anchor="end" direction="ltr">۱۴۰۲/۰۳/۲۱</text><text transform="translate(657.7,276.0) rotate(-82)" font-size="16.5" fill="#4a4040" stroke="#4a4040" stroke-width=".35" text-anchor="end" direction="ltr">۱۴۰۲/۰۳/۲۲</text><text transform="translate(685.4,276.0) rotate(-82)" font-size="16.5" fill="#4a4040" stroke="#4a4040" stroke-width=".35" text-anchor="end" direction="ltr">۱۴۰۲/۰۳/۲۳</text><text transform="translate(713.1,276.0) rotate(-82)" font-size="16.5" fill="#4a4040" stroke="#4a4040" stroke-width=".35" text-anchor="end" direction="ltr">۱۴۰۲/۰۳/۲۴</text><text transform="translate(740.8,276.0) rotate(-82)" font-size="16.5" fill="#4a4040" stroke="#4a4040" stroke-width=".35" text-anchor="end" direction="ltr">۱۴۰۲/۰۳/۲۵</text><text transform="translate(768.5,276.0) rotate(-82)" font-size="16.5" fill="#4a4040" stroke="#4a4040" stroke-width=".35" text-anchor="end" direction="ltr">۱۴۰۲/۰۳/۲۶</text><text transform="translate(796.2,276.0) rotate(-82)" font-size="16.5" fill="#4a4040" stroke="#4a4040" stroke-width=".35" text-anchor="end" direction="ltr">۱۴۰۲/۰۳/۲۷</text><text transform="translate(824.0,276.0) rotate(-82)" font-size="16.5" fill="#4a4040" stroke="#4a4040" stroke-width=".35" text-anchor="end" direction="ltr">۱۴۰۲/۰۳/۲۸</text><text transform="translate(851.7,276.0) rotate(-82)" font-size="16.5" fill="#4a4040" stroke="#4a4040" stroke-width=".35" text-anchor="end" direction="ltr">۱۴۰۲/۰۳/۲۹</text><text transform="translate(879.4,276.0) rotate(-82)" font-size="16.5" fill="#4a4040" stroke="#4a4040" stroke-width=".35" text-anchor="end" direction="ltr">۱۴۰۲/۰۳/۳۰</text><text transform="translate(907.1,276.0) rotate(-82)" font-size="16.5" fill="#4a4040" stroke="#4a4040" stroke-width=".35" text-anchor="end" direction="ltr">۱۴۰۲/۰۳/۳۱</text><text transform="translate(934.8,276.0) rotate(-82)" font-size="16.5" fill="#4a4040" stroke="#4a4040" stroke-width=".35" text-anchor="end" direction="ltr">۱۴۰۲/۰۴/۰۱</text><text transform="translate(962.5,276.0) rotate(-82)" font-size="16.5" fill="#4a4040" stroke="#4a4040" stroke-width=".35" text-anchor="end" direction="ltr">۱۴۰۲/۰۴/۰۲</text><line x1="121.4" y1="59.5" x2="125.1" y2="68.2" stroke="#aaa" stroke-width="1"/><rect x="107.1" y="30.4" width="27.8" height="29.1" fill="#fff" stroke="#8a44b8" stroke-width="1.3"/><text x="121.1" y="50.4" font-size="15" font-weight="700" fill="#111" text-anchor="middle" direction="ltr">۱۱۵</text><line x1="956.6" y1="100.3" x2="956.6" y2="109.0" stroke="#aaa" stroke-width="1"/><rect x="939.3" y="70.6" width="28.5" height="29.7" fill="#fff" stroke="#8a44b8" stroke-width="1.3"/><text x="953.5" y="90.9" font-size="15" font-weight="700" fill="#111" text-anchor="middle" direction="ltr">۱۰۶</text><rect x="112.1" y="120.1" width="25.4" height="28.5" fill="#fff" stroke="#ff9d33" stroke-width="1.3"/><text x="124.8" y="139.8" font-size="15" font-weight="700" fill="#111" text-anchor="middle" direction="ltr">۵۶</text><line x1="959.7" y1="167.1" x2="956.6" y2="179.5" stroke="#aaa" stroke-width="1"/><rect x="947.3" y="139.9" width="25.4" height="27.2" fill="#fff" stroke="#ff9d33" stroke-width="1.3"/><text x="960.0" y="158.9" font-size="15" font-weight="700" fill="#111" text-anchor="middle" direction="ltr">۵۰</text><text transform="translate(40.9,149.2) rotate(-90)" font-size="17" fill="#555" text-anchor="middle" direction="rtl">(میلیون ریال)</text><rect x="395.4" y="388.0" width="22.9" height="13.0" fill="#ff9d33"/><text x="421.3" y="398.9" font-size="14.5" fill="#555" direction="rtl" text-anchor="end">حباب ربع سکه</text><line x1="608.3" x2="631.8" y1="394.8" y2="394.8" stroke="#8a44b8" stroke-width="1.6"/><text x="633.8" y="399.2" font-size="14.5" fill="#555" direction="rtl" text-anchor="end">ربع سکه</text></svg>
<div class="b" style="left:1442.0px;top:2681.5px;width:1312.0px;height:790.0px;background:#fff;border-radius:32px;border:10px solid #ffc50a;box-shadow:7px 7px 10px rgba(10,5,60,.55);"></div>
<div class="b" style="left:2290.0px;top:2627.0px;width:419.0px;height:104.0px;background:#ffc50a;border-radius:18px;box-shadow:2px 4px 5px rgba(10,5,60,.4);"></div>
<svg class="b" style="left:1530.0px;top:2990.0px;" width="1190.0" height="460.0" viewBox="0 0 1190.00 460.00"><rect x="137.4" y="222.5" width="11.4" height="25.2" fill="#10893a"/><rect x="165.3" y="218.7" width="11.4" height="29.0" fill="#10893a"/><rect x="193.2" y="218.7" width="11.4" height="29.0" fill="#10893a"/><rect x="221.1" y="224.4" width="11.4" height="23.3" fill="#10893a"/><rect x="249.0" y="232.0" width="11.4" height="15.8" fill="#10893a"/><rect x="276.8" y="226.3" width="11.4" height="21.4" fill="#10893a"/><rect x="304.7" y="235.1" width="11.4" height="12.6" fill="#10893a"/><rect x="332.6" y="232.0" width="11.4" height="15.8" fill="#10893a"/><rect x="360.5" y="238.3" width="11.4" height="9.5" fill="#10893a"/><rect x="388.4" y="229.4" width="11.4" height="18.3" fill="#10893a"/><rect x="416.3" y="232.6" width="11.4" height="15.1" fill="#10893a"/><rect x="444.2" y="235.1" width="11.4" height="12.6" fill="#10893a"/><rect x="472.1" y="238.9" width="11.4" height="8.8" fill="#10893a"/><rect x="500.0" y="240.2" width="11.4" height="7.6" fill="#10893a"/><rect x="527.9" y="238.9" width="11.4" height="8.8" fill="#10893a"/><rect x="555.8" y="247.7" width="11.4" height="1.9" fill="#10893a"/><rect x="583.7" y="247.7" width="11.4" height="0.8" fill="#10893a"/><rect x="611.6" y="247.7" width="11.4" height="9.5" fill="#10893a"/><rect x="639.5" y="246.8" width="11.4" height="0.9" fill="#10893a"/><rect x="667.4" y="247.7" width="11.4" height="3.2" fill="#10893a"/><rect x="695.2" y="247.7" width="11.4" height="0.8" fill="#10893a"/><rect x="723.1" y="245.2" width="11.4" height="2.5" fill="#10893a"/><rect x="751.0" y="247.7" width="11.4" height="3.2" fill="#10893a"/><rect x="778.9" y="247.7" width="11.4" height="3.2" fill="#10893a"/><rect x="806.8" y="246.8" width="11.4" height="0.9" fill="#10893a"/><rect x="834.7" y="242.1" width="11.4" height="5.7" fill="#10893a"/><rect x="862.6" y="247.1" width="11.4" height="0.8" fill="#10893a"/><rect x="890.5" y="238.3" width="11.4" height="9.5" fill="#10893a"/><rect x="918.4" y="243.3" width="11.4" height="4.4" fill="#10893a"/><rect x="946.3" y="235.8" width="11.4" height="12.0" fill="#10893a"/><rect x="974.2" y="237.0" width="11.4" height="10.7" fill="#10893a"/><line x1="129.8" x2="993.7" y1="278.0" y2="278.0" stroke="#ffc50a" stroke-width="3"/><polyline points="143.1,83.1 170.9,85.0 198.8,85.0 226.7,86.3 254.6,91.3 282.5,85.0 310.4,91.3 338.3,91.3 366.2,90.1 394.1,90.1 422.0,98.3 449.9,98.3 477.8,98.3 505.7,99.5 533.6,114.0 561.5,122.9 589.4,122.9 617.2,129.8 645.1,144.3 673.0,138.0 700.9,122.9 728.8,127.3 756.7,131.7 784.6,131.7 812.5,122.2 840.4,121.0 868.3,130.4 896.2,127.3 924.1,133.0 952.0,124.8 979.9,124.8" fill="none" stroke="#f0641e" stroke-width="3" stroke-linejoin="round" stroke-linecap="round" /><text x="107.1" y="35.8" font-size="19" fill="#4a4040" stroke="#4a4040" stroke-width=".3" text-anchor="end" direction="ltr">۱۲۰</text><text x="107.1" y="60.1" font-size="19" fill="#4a4040" stroke="#4a4040" stroke-width=".3" text-anchor="end" direction="ltr">۱۱۵</text><text x="107.1" y="84.4" font-size="19" fill="#4a4040" stroke="#4a4040" stroke-width=".3" text-anchor="end" direction="ltr">۱۱۰</text><text x="107.1" y="108.8" font-size="19" fill="#4a4040" stroke="#4a4040" stroke-width=".3" text-anchor="end" direction="ltr">۱۰۵</text><text x="107.1" y="133.1" font-size="19" fill="#4a4040" stroke="#4a4040" stroke-width=".3" text-anchor="end" direction="ltr">۱۰۰</text><text x="107.1" y="157.5" font-size="19" fill="#4a4040" stroke="#4a4040" stroke-width=".3" text-anchor="end" direction="ltr">۹۵</text><text x="107.1" y="181.8" font-size="19" fill="#4a4040" stroke="#4a4040" stroke-width=".3" text-anchor="end" direction="ltr">۹۰</text><text x="107.1" y="206.1" font-size="19" fill="#4a4040" stroke="#4a4040" stroke-width=".3" text-anchor="end" direction="ltr">۸۵</text><text x="107.1" y="230.5" font-size="19" fill="#4a4040" stroke="#4a4040" stroke-width=".3" text-anchor="end" direction="ltr">۸۰</text><text x="107.1" y="254.8" font-size="19" fill="#4a4040" stroke="#4a4040" stroke-width=".3" text-anchor="end" direction="ltr">۷۵</text><text x="107.1" y="279.2" font-size="19" fill="#4a4040" stroke="#4a4040" stroke-width=".3" text-anchor="end" direction="ltr">۷۰</text><text x="1017.7" y="35.8" font-size="19" fill="#4a4040" stroke="#4a4040" stroke-width=".3" text-anchor="start" direction="ltr">۳۵</text><text x="1017.7" y="96.8" font-size="19" fill="#4a4040" stroke="#4a4040" stroke-width=".3" text-anchor="start" direction="ltr">۲۵</text><text x="1017.7" y="157.8" font-size="19" fill="#4a4040" stroke="#4a4040" stroke-width=".3" text-anchor="start" direction="ltr">۱۵</text><text x="1017.7" y="218.8" font-size="19" fill="#4a4040" stroke="#4a4040" stroke-width=".3" text-anchor="start" direction="ltr">۵</text><text x="1017.7" y="279.8" font-size="19" fill="#4a4040" stroke="#4a4040" stroke-width=".3" text-anchor="start" direction="ltr">-۵</text><text transform="translate(150.4,293.8) rotate(-80)" font-size="20.5" fill="#4a4040" stroke="#4a4040" stroke-width=".35" text-anchor="end" direction="ltr">۱۴۰۲/۰۳/۰۳</text><text transform="translate(206.2,293.8) rotate(-80)" font-size="20.5" fill="#4a4040" stroke="#4a4040" stroke-width=".35" text-anchor="end" direction="ltr">۱۴۰۲/۰۳/۰۵</text><text transform="translate(262.0,293.8) rotate(-80)" font-size="20.5" fill="#4a4040" stroke="#4a4040" stroke-width=".35" text-anchor="end" direction="ltr">۱۴۰۲/۰۳/۰۷</text><text transform="translate(317.8,293.8) rotate(-80)" font-size="20.5" fill="#4a4040" stroke="#4a4040" stroke-width=".35" text-anchor="end" direction="ltr">۱۴۰۲/۰۳/۰۹</text><text transform="translate(373.6,293.8) rotate(-80)" font-size="20.5" fill="#4a4040" stroke="#4a4040" stroke-width=".35" text-anchor="end" direction="ltr">۱۴۰۲/۰۳/۱۱</text><text transform="translate(429.4,293.8) rotate(-80)" font-size="20.5" fill="#4a4040" stroke="#4a4040" stroke-width=".35" text-anchor="end" direction="ltr">۱۴۰۲/۰۳/۱۳</text><text transform="translate(485.2,293.8) rotate(-80)" font-size="20.5" fill="#4a4040" stroke="#4a4040" stroke-width=".35" text-anchor="end" direction="ltr">۱۴۰۲/۰۳/۱۵</text><text transform="translate(540.9,293.8) rotate(-80)" font-size="20.5" fill="#4a4040" stroke="#4a4040" stroke-width=".35" text-anchor="end" direction="ltr">۱۴۰۲/۰۳/۱۷</text><text transform="translate(596.7,293.8) rotate(-80)" font-size="20.5" fill="#4a4040" stroke="#4a4040" stroke-width=".35" text-anchor="end" direction="ltr">۱۴۰۲/۰۳/۱۹</text><text transform="translate(652.5,293.8) rotate(-80)" font-size="20.5" fill="#4a4040" stroke="#4a4040" stroke-width=".35" text-anchor="end" direction="ltr">۱۴۰۲/۰۳/۲۱</text><text transform="translate(708.3,293.8) rotate(-80)" font-size="20.5" fill="#4a4040" stroke="#4a4040" stroke-width=".35" text-anchor="end" direction="ltr">۱۴۰۲/۰۳/۲۳</text><text transform="translate(764.1,293.8) rotate(-80)" font-size="20.5" fill="#4a4040" stroke="#4a4040" stroke-width=".35" text-anchor="end" direction="ltr">۱۴۰۲/۰۳/۲۵</text><text transform="translate(819.9,293.8) rotate(-80)" font-size="20.5" fill="#4a4040" stroke="#4a4040" stroke-width=".35" text-anchor="end" direction="ltr">۱۴۰۲/۰۳/۲۷</text><text transform="translate(875.7,293.8) rotate(-80)" font-size="20.5" fill="#4a4040" stroke="#4a4040" stroke-width=".35" text-anchor="end" direction="ltr">۱۴۰۲/۰۳/۲۹</text><text transform="translate(931.5,293.8) rotate(-80)" font-size="20.5" fill="#4a4040" stroke="#4a4040" stroke-width=".35" text-anchor="end" direction="ltr">۱۴۰۲/۰۳/۳۱</text><text transform="translate(987.2,293.8) rotate(-80)" font-size="20.5" fill="#4a4040" stroke="#4a4040" stroke-width=".35" text-anchor="end" direction="ltr">۱۴۰۲/۰۴/۰۲</text><line x1="145.6" y1="75.0" x2="143.1" y2="83.1" stroke="#aaa" stroke-width="1"/><rect x="123.5" y="35.2" width="56.8" height="39.7" fill="#fff" stroke="#f0641e" stroke-width="1.3"/><text x="151.9" y="62.3" font-size="20" font-weight="700" fill="#111" text-anchor="middle" direction="ltr">۱۰۹.۹</text><line x1="979.9" y1="117.2" x2="979.9" y2="124.8" stroke="#aaa" stroke-width="1"/><rect x="946.4" y="76.2" width="52.3" height="41.0" fill="#fff" stroke="#f0641e" stroke-width="1.3"/><text x="972.6" y="103.9" font-size="20" font-weight="700" fill="#111" text-anchor="middle" direction="ltr">۱۰۱.۲</text><rect x="123.5" y="179.0" width="40.4" height="37.8" fill="#fff" stroke="#3a9a4a" stroke-width="1.3"/><text x="143.7" y="205.1" font-size="20" font-weight="700" fill="#111" text-anchor="middle" direction="ltr">۴.۲</text><line x1="984.3" y1="216.8" x2="979.9" y2="237.0" stroke="#aaa" stroke-width="1"/><rect x="964.7" y="179.0" width="35.3" height="37.8" fill="#fff" stroke="#3a9a4a" stroke-width="1.3"/><text x="982.4" y="205.1" font-size="20" font-weight="700" fill="#111" text-anchor="middle" direction="ltr">۱.۶</text><text transform="translate(36.5,161.3) rotate(-90)" font-size="17" fill="#555" text-anchor="middle" direction="rtl">(میلیون ریال)</text><rect x="349.3" y="427.5" width="26.5" height="15.1" fill="#10893a"/><text x="378.7" y="440.3" font-size="17.5" fill="#555" direction="rtl" text-anchor="end">حباب طلای آب شده</text><line x1="576.3" x2="604.0" y1="437.5" y2="437.5" stroke="#f0641e" stroke-width="3"/><text x="606.0" y="442.8" font-size="17.5" fill="#555" direction="rtl" text-anchor="end">طلای آب شده -مثقال</text></svg>
<div class="b" style="left:76.0px;top:2660.5px;width:1312.0px;height:789.5px;background:#fff;border-radius:32px;border:10px solid #ffc50a;box-shadow:7px 7px 10px rgba(10,5,60,.55);"></div>
<div class="b" style="left:472.0px;top:2627.0px;width:871.0px;height:104.0px;background:#ffc50a;border-radius:18px;box-shadow:2px 4px 5px rgba(10,5,60,.4);"></div>
<div class="b" style="left:935.4px;top:2634.8px;width:12.9px;height:87.2px;background:#2b2090;border-radius:6.5px;"></div>
<svg class="b" style="left:150.0px;top:2970.0px;" width="1150.0" height="470.0" viewBox="0 0 1150.00 470.00"><defs><linearGradient id="bg6" x1="0" x2="0" y1="0" y2="1"><stop offset="0" stop-color="#bcd5f2"/><stop offset="1" stop-color="#8db6e6"/></linearGradient></defs><line x1="176.1" x2="1027.2" y1="300.9" y2="300.9" stroke="#d0d0d0" stroke-width="1.5"/><rect x="185.0" y="273.1" width="10.9" height="27.8" fill="url(#bg6)" stroke="#6fa0da" stroke-width="1"/><rect x="212.4" y="273.1" width="10.9" height="27.8" fill="url(#bg6)" stroke="#6fa0da" stroke-width="1"/><rect x="239.9" y="273.1" width="10.9" height="27.8" fill="url(#bg6)" stroke="#6fa0da" stroke-width="1"/><rect x="267.4" y="265.0" width="10.9" height="35.9" fill="url(#bg6)" stroke="#6fa0da" stroke-width="1"/><rect x="294.8" y="242.6" width="10.9" height="58.3" fill="url(#bg6)" stroke="#6fa0da" stroke-width="1"/><rect x="322.3" y="250.7" width="10.9" height="50.2" fill="url(#bg6)" stroke="#6fa0da" stroke-width="1"/><rect x="349.8" y="269.1" width="10.9" height="31.9" fill="url(#bg6)" stroke="#6fa0da" stroke-width="1"/><rect x="377.2" y="262.9" width="10.9" height="38.0" fill="url(#bg6)" stroke="#6fa0da" stroke-width="1"/><rect x="404.7" y="262.9" width="10.9" height="38.0" fill="url(#bg6)" stroke="#6fa0da" stroke-width="1"/><rect x="432.1" y="262.9" width="10.9" height="38.0" fill="url(#bg6)" stroke="#6fa0da" stroke-width="1"/><rect x="459.6" y="277.2" width="10.9" height="23.7" fill="url(#bg6)" stroke="#6fa0da" stroke-width="1"/><rect x="487.1" y="277.2" width="10.9" height="23.7" fill="url(#bg6)" stroke="#6fa0da" stroke-width="1"/><rect x="514.5" y="277.2" width="10.9" height="23.7" fill="url(#bg6)" stroke="#6fa0da" stroke-width="1"/><rect x="542.0" y="276.5" width="10.9" height="24.4" fill="url(#bg6)" stroke="#6fa0da" stroke-width="1"/><rect x="569.5" y="254.8" width="10.9" height="46.1" fill="url(#bg6)" stroke="#6fa0da" stroke-width="1"/><rect x="596.9" y="254.1" width="10.9" height="46.8" fill="url(#bg6)" stroke="#6fa0da" stroke-width="1"/><rect x="624.4" y="254.1" width="10.9" height="46.8" fill="url(#bg6)" stroke="#6fa0da" stroke-width="1"/><rect x="651.9" y="257.5" width="10.9" height="43.4" fill="url(#bg6)" stroke="#6fa0da" stroke-width="1"/><rect x="679.3" y="247.4" width="10.9" height="53.6" fill="url(#bg6)" stroke="#6fa0da" stroke-width="1"/><rect x="706.8" y="250.7" width="10.9" height="50.2" fill="url(#bg6)" stroke="#6fa0da" stroke-width="1"/><rect x="734.3" y="243.3" width="10.9" height="57.6" fill="url(#bg6)" stroke="#6fa0da" stroke-width="1"/><rect x="761.7" y="262.9" width="10.9" height="38.0" fill="url(#bg6)" stroke="#6fa0da" stroke-width="1"/><rect x="789.2" y="262.9" width="10.9" height="38.0" fill="url(#bg6)" stroke="#6fa0da" stroke-width="1"/><rect x="816.7" y="262.9" width="10.9" height="38.0" fill="url(#bg6)" stroke="#6fa0da" stroke-width="1"/><rect x="844.1" y="248.7" width="10.9" height="52.2" fill="url(#bg6)" stroke="#6fa0da" stroke-width="1"/><rect x="871.6" y="270.4" width="10.9" height="30.5" fill="url(#bg6)" stroke="#6fa0da" stroke-width="1"/><rect x="899.1" y="219.5" width="10.9" height="81.4" fill="url(#bg6)" stroke="#6fa0da" stroke-width="1"/><rect x="926.5" y="276.5" width="10.9" height="24.4" fill="url(#bg6)" stroke="#6fa0da" stroke-width="1"/><rect x="954.0" y="281.3" width="10.9" height="19.7" fill="url(#bg6)" stroke="#6fa0da" stroke-width="1"/><rect x="981.4" y="281.3" width="10.9" height="19.7" fill="url(#bg6)" stroke="#6fa0da" stroke-width="1"/><rect x="1008.9" y="281.3" width="10.9" height="19.7" fill="url(#bg6)" stroke="#6fa0da" stroke-width="1"/><polyline points="190.4,69.7 217.9,69.7 245.3,69.7 272.8,82.6 300.2,94.1 327.7,83.9 355.2,88.7 382.6,100.2 410.1,100.2 437.6,100.2 465.0,97.5 492.5,97.5 520.0,97.5 547.4,97.5 574.9,112.4 602.4,112.4 629.8,112.4 657.3,118.5 684.8,123.9 712.2,130.7 739.7,113.1 767.2,111.0 794.6,111.0 822.1,111.0 849.5,112.4 877.0,115.8 904.5,128.0 931.9,121.9 959.4,123.9 986.9,123.9 1014.3,123.9" fill="none" stroke="#ee7d31" stroke-width="3" stroke-linejoin="round" stroke-linecap="round" /><text x="153.8" y="59.5" font-size="18.8" fill="#4a4040" stroke="#4a4040" stroke-width=".3" text-anchor="end" direction="ltr">۳,۳۰۰,۰۰۰</text><text x="153.8" y="86.6" font-size="18.8" fill="#4a4040" stroke="#4a4040" stroke-width=".3" text-anchor="end" direction="ltr">۳,۱۰۰,۰۰۰</text><text x="153.8" y="113.7" font-size="18.8" fill="#4a4040" stroke="#4a4040" stroke-width=".3" text-anchor="end" direction="ltr">۲,۹۰۰,۰۰۰</text><text x="153.8" y="140.9" font-size="18.8" fill="#4a4040" stroke="#4a4040" stroke-width=".3" text-anchor="end" direction="ltr">۲,۷۰۰,۰۰۰</text><text x="153.8" y="168.0" font-size="18.8" fill="#4a4040" stroke="#4a4040" stroke-width=".3" text-anchor="end" direction="ltr">۲,۵۰۰,۰۰۰</text><text x="153.8" y="195.1" font-size="18.8" fill="#4a4040" stroke="#4a4040" stroke-width=".3" text-anchor="end" direction="ltr">۲,۳۰۰,۰۰۰</text><text x="153.8" y="222.2" font-size="18.8" fill="#4a4040" stroke="#4a4040" stroke-width=".3" text-anchor="end" direction="ltr">۲,۱۰۰,۰۰۰</text><text x="153.8" y="249.4" font-size="18.8" fill="#4a4040" stroke="#4a4040" stroke-width=".3" text-anchor="end" direction="ltr">۱,۹۰۰,۰۰۰</text><text x="153.8" y="276.5" font-size="18.8" fill="#4a4040" stroke="#4a4040" stroke-width=".3" text-anchor="end" direction="ltr">۱,۷۰۰,۰۰۰</text><text x="153.8" y="303.6" font-size="18.8" fill="#4a4040" stroke="#4a4040" stroke-width=".3" text-anchor="end" direction="ltr">۱,۵۰۰,۰۰۰</text><text x="1053.0" y="96.1" font-size="18.8" fill="#4a4040" stroke="#4a4040" stroke-width=".3" text-anchor="start" direction="ltr">۸۰۱,۰۰۰</text><text x="1053.0" y="148.0" font-size="18.8" fill="#4a4040" stroke="#4a4040" stroke-width=".3" text-anchor="start" direction="ltr">۶۰۱,۰۰۰</text><text x="1053.0" y="199.9" font-size="18.8" fill="#4a4040" stroke="#4a4040" stroke-width=".3" text-anchor="start" direction="ltr">۴۰۱,۰۰۰</text><text x="1053.0" y="251.7" font-size="18.8" fill="#4a4040" stroke="#4a4040" stroke-width=".3" text-anchor="start" direction="ltr">۲۰۱,۰۰۰</text><text x="1053.0" y="303.6" font-size="18.8" fill="#4a4040" stroke="#4a4040" stroke-width=".3" text-anchor="start" direction="ltr">۱,۰۰۰</text><text transform="translate(197.9,315.2) rotate(-80)" font-size="21" fill="#4a4040" stroke="#4a4040" stroke-width=".35" text-anchor="end" direction="ltr">۱۴۰۲/۰۳/۰۳</text><text transform="translate(252.9,315.2) rotate(-80)" font-size="21" fill="#4a4040" stroke="#4a4040" stroke-width=".35" text-anchor="end" direction="ltr">۱۴۰۲/۰۳/۰۵</text><text transform="translate(307.8,315.2) rotate(-80)" font-size="21" fill="#4a4040" stroke="#4a4040" stroke-width=".35" text-anchor="end" direction="ltr">۱۴۰۲/۰۳/۰۷</text><text transform="translate(362.7,315.2) rotate(-80)" font-size="21" fill="#4a4040" stroke="#4a4040" stroke-width=".35" text-anchor="end" direction="ltr">۱۴۰۲/۰۳/۰۹</text><text transform="translate(417.7,315.2) rotate(-80)" font-size="21" fill="#4a4040" stroke="#4a4040" stroke-width=".35" text-anchor="end" direction="ltr">۱۴۰۲/۰۳/۱۱</text><text transform="translate(472.6,315.2) rotate(-80)" font-size="21" fill="#4a4040" stroke="#4a4040" stroke-width=".35" text-anchor="end" direction="ltr">۱۴۰۲/۰۳/۱۳</text><text transform="translate(527.5,315.2) rotate(-80)" font-size="21" fill="#4a4040" stroke="#4a4040" stroke-width=".35" text-anchor="end" direction="ltr">۱۴۰۲/۰۳/۱۵</text><text transform="translate(582.5,315.2) rotate(-80)" font-size="21" fill="#4a4040" stroke="#4a4040" stroke-width=".35" text-anchor="end" direction="ltr">۱۴۰۲/۰۳/۱۷</text><text transform="translate(637.4,315.2) rotate(-80)" font-size="21" fill="#4a4040" stroke="#4a4040" stroke-width=".35" text-anchor="end" direction="ltr">۱۴۰۲/۰۳/۱۹</text><text transform="translate(692.3,315.2) rotate(-80)" font-size="21" fill="#4a4040" stroke="#4a4040" stroke-width=".35" text-anchor="end" direction="ltr">۱۴۰۲/۰۳/۲۱</text><text transform="translate(747.2,315.2) rotate(-80)" font-size="21" fill="#4a4040" stroke="#4a4040" stroke-width=".35" text-anchor="end" direction="ltr">۱۴۰۲/۰۳/۲۳</text><text transform="translate(802.2,315.2) rotate(-80)" font-size="21" fill="#4a4040" stroke="#4a4040" stroke-width=".35" text-anchor="end" direction="ltr">۱۴۰۲/۰۳/۲۵</text><text transform="translate(857.1,315.2) rotate(-80)" font-size="21" fill="#4a4040" stroke="#4a4040" stroke-width=".35" text-anchor="end" direction="ltr">۱۴۰۲/۰۳/۲۷</text><text transform="translate(912.0,315.2) rotate(-80)" font-size="21" fill="#4a4040" stroke="#4a4040" stroke-width=".35" text-anchor="end" direction="ltr">۱۴۰۲/۰۳/۲۹</text><text transform="translate(967.0,315.2) rotate(-80)" font-size="21" fill="#4a4040" stroke="#4a4040" stroke-width=".35" text-anchor="end" direction="ltr">۱۴۰۲/۰۳/۳۱</text><text transform="translate(1021.9,315.2) rotate(-80)" font-size="21" fill="#4a4040" stroke="#4a4040" stroke-width=".35" text-anchor="end" direction="ltr">۱۴۰۲/۰۴/۰۲</text><line x1="213.4" y1="60.2" x2="190.4" y2="69.7" stroke="#aaa" stroke-width="1"/><rect x="164.6" y="19.5" width="108.5" height="40.7" fill="#fff" stroke="#ee7d31" stroke-width="1.3"/><text x="218.9" y="47.0" font-size="20" font-weight="700" fill="#111" text-anchor="middle" direction="ltr">۳,۲۰۵,۱۰۴</text><line x1="973.0" y1="94.8" x2="1014.3" y2="123.9" stroke="#aaa" stroke-width="1"/><rect x="920.8" y="54.1" width="103.1" height="40.7" fill="#fff" stroke="#ee7d31" stroke-width="1.3"/><text x="972.3" y="81.6" font-size="20" font-weight="700" fill="#111" text-anchor="middle" direction="ltr">۲,۸۰۱,۱۹۵</text><rect x="155.8" y="227.0" width="97.0" height="40.7" fill="#fff" stroke="#7ab0e0" stroke-width="1.3"/><text x="204.3" y="254.6" font-size="20" font-weight="700" fill="#111" text-anchor="middle" direction="ltr">۱۰۸,۲۰۰</text><rect x="970.9" y="237.2" width="78.7" height="39.3" fill="#fff" stroke="#7ab0e0" stroke-width="1.3"/><text x="1010.3" y="264.0" font-size="20" font-weight="700" fill="#111" text-anchor="middle" direction="ltr">۷۶,۷۰۰</text><text transform="translate(39.8,155.8) rotate(-90)" font-size="17" fill="#555" text-anchor="middle" direction="rtl">(میلیون ریال)</text><rect x="347.7" y="435.9" width="28.5" height="14.9" fill="#a8c8ee" stroke="#7aa7dc" stroke-width="1"/><text x="379.2" y="449.2" font-size="19.5" fill="#555" direction="rtl" text-anchor="end">حجم معاملات</text><line x1="513.9" x2="545.7" y1="442.7" y2="442.7" stroke="#ee7d31" stroke-width="3"/><text x="547.7" y="448.5" font-size="19.5" fill="#555" direction="rtl" text-anchor="end">گواهی سپرده سکه رفاه- قیمت پایانی</text></svg>
<svg class="b" style="left:2086.5px;top:1920.5px;" width="608.8" height="285.0" viewBox="2086.5 1920.5 608.8 285.0"><defs><filter id="psha" x="-10%" y="-20%" width="125%" height="150%"><feDropShadow dx="6" dy="9" stdDeviation="7" flood-color="#000" flood-opacity="0.5"/></filter><radialGradient id="cfa" cx=".42" cy=".38" r=".72"><stop offset="0" stop-color="#f9da6e"/><stop offset=".7" stop-color="#f5cf58"/><stop offset="1" stop-color="#ecbd40"/></radialGradient><linearGradient id="cra" x1="0" y1="0" x2="1" y2="1"><stop offset="0" stop-color="#f7d560"/><stop offset=".5" stop-color="#e2ad2a"/><stop offset="1" stop-color="#c8921a"/></linearGradient></defs><g filter="url(#psha)"><rect x="2126.5" y="1982.8" width="426.3" height="161.7" rx="28" fill="#2b2090"/><circle cx="2552.8" cy="2063.0" r="102.5" fill="#2b2090"/></g><g transform="translate(2550.5,2063.8) scale(0.840)"><circle r="100" fill="url(#cra)"/><circle r="97.5" fill="none" stroke="#f3cf5e" stroke-width="2" stroke-dasharray="1.6 1.4"/><circle r="94.5" fill="url(#cfa)"/><ellipse cx="0.0" cy="-81.0" rx="8.5" ry="10.5" transform="rotate(0 0.0 -81.0)" fill="#fdea9c"/><ellipse cx="40.5" cy="-70.1" rx="13" ry="7.5" transform="rotate(30 40.5 -70.1)" fill="#fdea9c"/><circle cx="37.7" cy="-65.2" r="3.5" fill="#f4ce5c"/><ellipse cx="70.1" cy="-40.5" rx="8.5" ry="10.5" transform="rotate(60 70.1 -40.5)" fill="#fdea9c"/><ellipse cx="81.0" cy="0.0" rx="13" ry="7.5" transform="rotate(90 81.0 0.0)" fill="#fdea9c"/><circle cx="75.3" cy="0.0" r="3.5" fill="#f4ce5c"/><ellipse cx="70.1" cy="40.5" rx="8.5" ry="10.5" transform="rotate(120 70.1 40.5)" fill="#fdea9c"/><ellipse cx="40.5" cy="70.1" rx="13" ry="7.5" transform="rotate(150 40.5 70.1)" fill="#fdea9c"/><circle cx="37.7" cy="65.2" r="3.5" fill="#f4ce5c"/><ellipse cx="0.0" cy="81.0" rx="8.5" ry="10.5" transform="rotate(180 0.0 81.0)" fill="#fdea9c"/><ellipse cx="-40.5" cy="70.1" rx="13" ry="7.5" transform="rotate(210 -40.5 70.1)" fill="#fdea9c"/><circle cx="-37.7" cy="65.2" r="3.5" fill="#f4ce5c"/><ellipse cx="-70.1" cy="40.5" rx="8.5" ry="10.5" transform="rotate(240 -70.1 40.5)" fill="#fdea9c"/><ellipse cx="-81.0" cy="0.0" rx="13" ry="7.5" transform="rotate(270 -81.0 0.0)" fill="#fdea9c"/><circle cx="-75.3" cy="0.0" r="3.5" fill="#f4ce5c"/><ellipse cx="-70.1" cy="-40.5" rx="8.5" ry="10.5" transform="rotate(300 -70.1 -40.5)" fill="#fdea9c"/><ellipse cx="-40.5" cy="-70.1" rx="13" ry="7.5" transform="rotate(330 -40.5 -70.1)" fill="#fdea9c"/><circle cx="-37.7" cy="-65.2" r="3.5" fill="#f4ce5c"/><polygon points="69.0,0.0 34.5,59.8 -34.5,59.8 -69.0,0.0 -34.5,-59.8 34.5,-59.8" fill="#f4ce5c" stroke="#fbe38c" stroke-width="1.6"/><polygon points="64.5,0.0 32.3,55.9 -32.2,55.9 -64.5,0.0 -32.3,-55.9 32.3,-55.9" fill="none" stroke="#f9dd7c" stroke-width="1"/><polygon points="-35.4,-42.7 10.1,-42.7 16.6,-31 16.5,-28.8 -3.8,-28.8 -8.1,-21.7 3.2,-21.5 7.3,-11.1 2.2,-2.2 -4.7,-6.8 -15.8,-7 -21.4,2.1 -28.2,-9.2 -19.3,-28.8 -30.4,-28.8 -48.3,1.6 -60.6,0.3" fill="#fdea9c" transform="rotate(0)"/><polygon points="-35.4,-42.7 10.1,-42.7 16.6,-31 16.5,-28.8 -3.8,-28.8 -8.1,-21.7 3.2,-21.5 7.3,-11.1 2.2,-2.2 -4.7,-6.8 -15.8,-7 -21.4,2.1 -28.2,-9.2 -19.3,-28.8 -30.4,-28.8 -48.3,1.6 -60.6,0.3" fill="#fdea9c" transform="rotate(120)"/><polygon points="-35.4,-42.7 10.1,-42.7 16.6,-31 16.5,-28.8 -3.8,-28.8 -8.1,-21.7 3.2,-21.5 7.3,-11.1 2.2,-2.2 -4.7,-6.8 -15.8,-7 -21.4,2.1 -28.2,-9.2 -19.3,-28.8 -30.4,-28.8 -48.3,1.6 -60.6,0.3" fill="#fdea9c" transform="rotate(240)"/><text x="0" y="78" font-size="6.5" fill="#cf9f2e" opacity=".8" text-anchor="middle" direction="rtl" textLength="62" lengthAdjust="spacingAndGlyphs" transform="rotate(-4)">بانک مرکزی جمهوری اسلامی ایران</text></g><rect x="2149.4" y="2063.1" width="292.9" height="2.8" fill="#fff"/></svg>
<svg class="b" style="left:1497.0px;top:1920.5px;" width="609.5" height="285.0" viewBox="1497.0 1920.5 609.5 285.0"><defs><filter id="pshb" x="-10%" y="-20%" width="125%" height="150%"><feDropShadow dx="6" dy="9" stdDeviation="7" flood-color="#000" flood-opacity="0.5"/></filter><radialGradient id="cfb" cx=".42" cy=".38" r=".72"><stop offset="0" stop-color="#f9da6e"/><stop offset=".7" stop-color="#f5cf58"/><stop offset="1" stop-color="#ecbd40"/></radialGradient><linearGradient id="crb" x1="0" y1="0" x2="1" y2="1"><stop offset="0" stop-color="#f7d560"/><stop offset=".5" stop-color="#e2ad2a"/><stop offset="1" stop-color="#c8921a"/></linearGradient></defs><g filter="url(#pshb)"><rect x="1537.0" y="1982.8" width="427.0" height="161.7" rx="28" fill="#2b2090"/><circle cx="1964.0" cy="2063.0" r="102.5" fill="#2b2090"/></g><g transform="translate(1960.5,2064.5) scale(0.850)"><circle r="100" fill="url(#crb)"/><circle r="97.5" fill="none" stroke="#f3cf5e" stroke-width="2" stroke-dasharray="1.6 1.4"/><circle r="94.5" fill="url(#cfb)"/><ellipse cx="0.0" cy="-81.0" rx="8.5" ry="10.5" transform="rotate(0 0.0 -81.0)" fill="#fdea9c"/><ellipse cx="40.5" cy="-70.1" rx="13" ry="7.5" transform="rotate(30 40.5 -70.1)" fill="#fdea9c"/><circle cx="37.7" cy="-65.2" r="3.5" fill="#f4ce5c"/><ellipse cx="70.1" cy="-40.5" rx="8.5" ry="10.5" transform="rotate(60 70.1 -40.5)" fill="#fdea9c"/><ellipse cx="81.0" cy="0.0" rx="13" ry="7.5" transform="rotate(90 81.0 0.0)" fill="#fdea9c"/><circle cx="75.3" cy="0.0" r="3.5" fill="#f4ce5c"/><ellipse cx="70.1" cy="40.5" rx="8.5" ry="10.5" transform="rotate(120 70.1 40.5)" fill="#fdea9c"/><ellipse cx="40.5" cy="70.1" rx="13" ry="7.5" transform="rotate(150 40.5 70.1)" fill="#fdea9c"/><circle cx="37.7" cy="65.2" r="3.5" fill="#f4ce5c"/><ellipse cx="0.0" cy="81.0" rx="8.5" ry="10.5" transform="rotate(180 0.0 81.0)" fill="#fdea9c"/><ellipse cx="-40.5" cy="70.1" rx="13" ry="7.5" transform="rotate(210 -40.5 70.1)" fill="#fdea9c"/><circle cx="-37.7" cy="65.2" r="3.5" fill="#f4ce5c"/><ellipse cx="-70.1" cy="40.5" rx="8.5" ry="10.5" transform="rotate(240 -70.1 40.5)" fill="#fdea9c"/><ellipse cx="-81.0" cy="0.0" rx="13" ry="7.5" transform="rotate(270 -81.0 0.0)" fill="#fdea9c"/><circle cx="-75.3" cy="0.0" r="3.5" fill="#f4ce5c"/><ellipse cx="-70.1" cy="-40.5" rx="8.5" ry="10.5" transform="rotate(300 -70.1 -40.5)" fill="#fdea9c"/><ellipse cx="-40.5" cy="-70.1" rx="13" ry="7.5" transform="rotate(330 -40.5 -70.1)" fill="#fdea9c"/><circle cx="-37.7" cy="-65.2" r="3.5" fill="#f4ce5c"/><polygon points="69.0,0.0 34.5,59.8 -34.5,59.8 -69.0,0.0 -34.5,-59.8 34.5,-59.8" fill="#f4ce5c" stroke="#fbe38c" stroke-width="1.6"/><polygon points="64.5,0.0 32.3,55.9 -32.2,55.9 -64.5,0.0 -32.3,-55.9 32.3,-55.9" fill="none" stroke="#f9dd7c" stroke-width="1"/><polygon points="-35.4,-42.7 10.1,-42.7 16.6,-31 16.5,-28.8 -3.8,-28.8 -8.1,-21.7 3.2,-21.5 7.3,-11.1 2.2,-2.2 -4.7,-6.8 -15.8,-7 -21.4,2.1 -28.2,-9.2 -19.3,-28.8 -30.4,-28.8 -48.3,1.6 -60.6,0.3" fill="#fdea9c" transform="rotate(0)"/><polygon points="-35.4,-42.7 10.1,-42.7 16.6,-31 16.5,-28.8 -3.8,-28.8 -8.1,-21.7 3.2,-21.5 7.3,-11.1 2.2,-2.2 -4.7,-6.8 -15.8,-7 -21.4,2.1 -28.2,-9.2 -19.3,-28.8 -30.4,-28.8 -48.3,1.6 -60.6,0.3" fill="#fdea9c" transform="rotate(120)"/><polygon points="-35.4,-42.7 10.1,-42.7 16.6,-31 16.5,-28.8 -3.8,-28.8 -8.1,-21.7 3.2,-21.5 7.3,-11.1 2.2,-2.2 -4.7,-6.8 -15.8,-7 -21.4,2.1 -28.2,-9.2 -19.3,-28.8 -30.4,-28.8 -48.3,1.6 -60.6,0.3" fill="#fdea9c" transform="rotate(240)"/><text x="0" y="78" font-size="6.5" fill="#cf9f2e" opacity=".8" text-anchor="middle" direction="rtl" textLength="62" lengthAdjust="spacingAndGlyphs" transform="rotate(-4)">بانک مرکزی جمهوری اسلامی ایران</text></g><rect x="1557.0" y="2063.1" width="294.0" height="2.8" fill="#fff"/></svg>
<svg class="b" style="left:715.0px;top:1925.5px;" width="624.0" height="293.0" viewBox="715.0 1925.5 624.0 293.0"><defs><filter id="pshc" x="-10%" y="-20%" width="125%" height="150%"><feDropShadow dx="6" dy="10" stdDeviation="9" flood-color="#3a2ab0" flood-opacity="0.6"/></filter><radialGradient id="cfc" cx=".42" cy=".38" r=".72"><stop offset="0" stop-color="#f9da6e"/><stop offset=".7" stop-color="#f5cf58"/><stop offset="1" stop-color="#ecbd40"/></radialGradient><linearGradient id="crc" x1="0" y1="0" x2="1" y2="1"><stop offset="0" stop-color="#f7d560"/><stop offset=".5" stop-color="#e2ad2a"/><stop offset="1" stop-color="#c8921a"/></linearGradient></defs><g filter="url(#pshc)"><rect x="755.0" y="1989.6" width="437.5" height="166.0" rx="28" fill="#2b2090"/><circle cx="1192.5" cy="2072.0" r="106.5" fill="#2b2090"/></g><g transform="translate(1192.6,2071.5) scale(0.750)"><circle r="100" fill="url(#crc)"/><circle r="97.5" fill="none" stroke="#f3cf5e" stroke-width="2" stroke-dasharray="1.6 1.4"/><circle r="94.5" fill="url(#cfc)"/><ellipse cx="0.0" cy="-81.0" rx="8.5" ry="10.5" transform="rotate(0 0.0 -81.0)" fill="#fdea9c"/><ellipse cx="40.5" cy="-70.1" rx="13" ry="7.5" transform="rotate(30 40.5 -70.1)" fill="#fdea9c"/><circle cx="37.7" cy="-65.2" r="3.5" fill="#f4ce5c"/><ellipse cx="70.1" cy="-40.5" rx="8.5" ry="10.5" transform="rotate(60 70.1 -40.5)" fill="#fdea9c"/><ellipse cx="81.0" cy="0.0" rx="13" ry="7.5" transform="rotate(90 81.0 0.0)" fill="#fdea9c"/><circle cx="75.3" cy="0.0" r="3.5" fill="#f4ce5c"/><ellipse cx="70.1" cy="40.5" rx="8.5" ry="10.5" transform="rotate(120 70.1 40.5)" fill="#fdea9c"/><ellipse cx="40.5" cy="70.1" rx="13" ry="7.5" transform="rotate(150 40.5 70.1)" fill="#fdea9c"/><circle cx="37.7" cy="65.2" r="3.5" fill="#f4ce5c"/><ellipse cx="0.0" cy="81.0" rx="8.5" ry="10.5" transform="rotate(180 0.0 81.0)" fill="#fdea9c"/><ellipse cx="-40.5" cy="70.1" rx="13" ry="7.5" transform="rotate(210 -40.5 70.1)" fill="#fdea9c"/><circle cx="-37.7" cy="65.2" r="3.5" fill="#f4ce5c"/><ellipse cx="-70.1" cy="40.5" rx="8.5" ry="10.5" transform="rotate(240 -70.1 40.5)" fill="#fdea9c"/><ellipse cx="-81.0" cy="0.0" rx="13" ry="7.5" transform="rotate(270 -81.0 0.0)" fill="#fdea9c"/><circle cx="-75.3" cy="0.0" r="3.5" fill="#f4ce5c"/><ellipse cx="-70.1" cy="-40.5" rx="8.5" ry="10.5" transform="rotate(300 -70.1 -40.5)" fill="#fdea9c"/><ellipse cx="-40.5" cy="-70.1" rx="13" ry="7.5" transform="rotate(330 -40.5 -70.1)" fill="#fdea9c"/><circle cx="-37.7" cy="-65.2" r="3.5" fill="#f4ce5c"/><polygon points="69.0,0.0 34.5,59.8 -34.5,59.8 -69.0,0.0 -34.5,-59.8 34.5,-59.8" fill="#f4ce5c" stroke="#fbe38c" stroke-width="1.6"/><polygon points="64.5,0.0 32.3,55.9 -32.2,55.9 -64.5,0.0 -32.3,-55.9 32.3,-55.9" fill="none" stroke="#f9dd7c" stroke-width="1"/><polygon points="-35.4,-42.7 10.1,-42.7 16.6,-31 16.5,-28.8 -3.8,-28.8 -8.1,-21.7 3.2,-21.5 7.3,-11.1 2.2,-2.2 -4.7,-6.8 -15.8,-7 -21.4,2.1 -28.2,-9.2 -19.3,-28.8 -30.4,-28.8 -48.3,1.6 -60.6,0.3" fill="#fdea9c" transform="rotate(0)"/><polygon points="-35.4,-42.7 10.1,-42.7 16.6,-31 16.5,-28.8 -3.8,-28.8 -8.1,-21.7 3.2,-21.5 7.3,-11.1 2.2,-2.2 -4.7,-6.8 -15.8,-7 -21.4,2.1 -28.2,-9.2 -19.3,-28.8 -30.4,-28.8 -48.3,1.6 -60.6,0.3" fill="#fdea9c" transform="rotate(120)"/><polygon points="-35.4,-42.7 10.1,-42.7 16.6,-31 16.5,-28.8 -3.8,-28.8 -8.1,-21.7 3.2,-21.5 7.3,-11.1 2.2,-2.2 -4.7,-6.8 -15.8,-7 -21.4,2.1 -28.2,-9.2 -19.3,-28.8 -30.4,-28.8 -48.3,1.6 -60.6,0.3" fill="#fdea9c" transform="rotate(240)"/><text x="0" y="78" font-size="6.5" fill="#cf9f2e" opacity=".8" text-anchor="middle" direction="rtl" textLength="62" lengthAdjust="spacingAndGlyphs" transform="rotate(-4)">بانک مرکزی جمهوری اسلامی ایران</text></g><rect x="803.5" y="2080.0" width="293.5" height="2.8" fill="#fff"/></svg>
<svg class="b" style="left:108.6px;top:1925.6px;" width="618.9" height="292.8" viewBox="108.6 1925.6 618.9 292.8"><defs><filter id="pshd" x="-10%" y="-20%" width="125%" height="150%"><feDropShadow dx="6" dy="9" stdDeviation="7" flood-color="#000" flood-opacity="0.5"/></filter><radialGradient id="cfd" cx=".42" cy=".38" r=".72"><stop offset="0" stop-color="#f9da6e"/><stop offset=".7" stop-color="#f5cf58"/><stop offset="1" stop-color="#ecbd40"/></radialGradient><linearGradient id="crd" x1="0" y1="0" x2="1" y2="1"><stop offset="0" stop-color="#f7d560"/><stop offset=".5" stop-color="#e2ad2a"/><stop offset="1" stop-color="#c8921a"/></linearGradient></defs><g filter="url(#pshd)"><rect x="148.6" y="1989.3" width="432.5" height="167.0" rx="28" fill="#2b2090"/><circle cx="581.1" cy="2072.0" r="106.4" fill="#2b2090"/></g><g transform="translate(581.9,2071.4) scale(0.750)"><circle r="100" fill="url(#crd)"/><circle r="97.5" fill="none" stroke="#f3cf5e" stroke-width="2" stroke-dasharray="1.6 1.4"/><circle r="94.5" fill="url(#cfd)"/><ellipse cx="0.0" cy="-81.0" rx="8.5" ry="10.5" transform="rotate(0 0.0 -81.0)" fill="#fdea9c"/><ellipse cx="40.5" cy="-70.1" rx="13" ry="7.5" transform="rotate(30 40.5 -70.1)" fill="#fdea9c"/><circle cx="37.7" cy="-65.2" r="3.5" fill="#f4ce5c"/><ellipse cx="70.1" cy="-40.5" rx="8.5" ry="10.5" transform="rotate(60 70.1 -40.5)" fill="#fdea9c"/><ellipse cx="81.0" cy="0.0" rx="13" ry="7.5" transform="rotate(90 81.0 0.0)" fill="#fdea9c"/><circle cx="75.3" cy="0.0" r="3.5" fill="#f4ce5c"/><ellipse cx="70.1" cy="40.5" rx="8.5" ry="10.5" transform="rotate(120 70.1 40.5)" fill="#fdea9c"/><ellipse cx="40.5" cy="70.1" rx="13" ry="7.5" transform="rotate(150 40.5 70.1)" fill="#fdea9c"/><circle cx="37.7" cy="65.2" r="3.5" fill="#f4ce5c"/><ellipse cx="0.0" cy="81.0" rx="8.5" ry="10.5" transform="rotate(180 0.0 81.0)" fill="#fdea9c"/><ellipse cx="-40.5" cy="70.1" rx="13" ry="7.5" transform="rotate(210 -40.5 70.1)" fill="#fdea9c"/><circle cx="-37.7" cy="65.2" r="3.5" fill="#f4ce5c"/><ellipse cx="-70.1" cy="40.5" rx="8.5" ry="10.5" transform="rotate(240 -70.1 40.5)" fill="#fdea9c"/><ellipse cx="-81.0" cy="0.0" rx="13" ry="7.5" transform="rotate(270 -81.0 0.0)" fill="#fdea9c"/><circle cx="-75.3" cy="0.0" r="3.5" fill="#f4ce5c"/><ellipse cx="-70.1" cy="-40.5" rx="8.5" ry="10.5" transform="rotate(300 -70.1 -40.5)" fill="#fdea9c"/><ellipse cx="-40.5" cy="-70.1" rx="13" ry="7.5" transform="rotate(330 -40.5 -70.1)" fill="#fdea9c"/><circle cx="-37.7" cy="-65.2" r="3.5" fill="#f4ce5c"/><polygon points="69.0,0.0 34.5,59.8 -34.5,59.8 -69.0,0.0 -34.5,-59.8 34.5,-59.8" fill="#f4ce5c" stroke="#fbe38c" stroke-width="1.6"/><polygon points="64.5,0.0 32.3,55.9 -32.2,55.9 -64.5,0.0 -32.3,-55.9 32.3,-55.9" fill="none" stroke="#f9dd7c" stroke-width="1"/><polygon points="-35.4,-42.7 10.1,-42.7 16.6,-31 16.5,-28.8 -3.8,-28.8 -8.1,-21.7 3.2,-21.5 7.3,-11.1 2.2,-2.2 -4.7,-6.8 -15.8,-7 -21.4,2.1 -28.2,-9.2 -19.3,-28.8 -30.4,-28.8 -48.3,1.6 -60.6,0.3" fill="#fdea9c" transform="rotate(0)"/><polygon points="-35.4,-42.7 10.1,-42.7 16.6,-31 16.5,-28.8 -3.8,-28.8 -8.1,-21.7 3.2,-21.5 7.3,-11.1 2.2,-2.2 -4.7,-6.8 -15.8,-7 -21.4,2.1 -28.2,-9.2 -19.3,-28.8 -30.4,-28.8 -48.3,1.6 -60.6,0.3" fill="#fdea9c" transform="rotate(120)"/><polygon points="-35.4,-42.7 10.1,-42.7 16.6,-31 16.5,-28.8 -3.8,-28.8 -8.1,-21.7 3.2,-21.5 7.3,-11.1 2.2,-2.2 -4.7,-6.8 -15.8,-7 -21.4,2.1 -28.2,-9.2 -19.3,-28.8 -30.4,-28.8 -48.3,1.6 -60.6,0.3" fill="#fdea9c" transform="rotate(240)"/><text x="0" y="78" font-size="6.5" fill="#cf9f2e" opacity=".8" text-anchor="middle" direction="rtl" textLength="62" lengthAdjust="spacingAndGlyphs" transform="rotate(-4)">بانک مرکزی جمهوری اسلامی ایران</text></g><rect x="175.0" y="2079.9" width="293.7" height="2.8" fill="#fff"/></svg>
<svg class="b" style="left:2060.8px;top:2722.9px;" width="618.0" height="293.0" viewBox="2060.8 2722.9 618.0 293.0"><defs><filter id="pshe" x="-10%" y="-20%" width="125%" height="150%"><feDropShadow dx="6" dy="10" stdDeviation="9" flood-color="#3a2ab0" flood-opacity="0.6"/></filter><radialGradient id="cfe" cx=".42" cy=".38" r=".72"><stop offset="0" stop-color="#f9da6e"/><stop offset=".7" stop-color="#f5cf58"/><stop offset="1" stop-color="#ecbd40"/></radialGradient><linearGradient id="cre" x1="0" y1="0" x2="1" y2="1"><stop offset="0" stop-color="#f7d560"/><stop offset=".5" stop-color="#e2ad2a"/><stop offset="1" stop-color="#c8921a"/></linearGradient></defs><g filter="url(#pshe)"><rect x="2100.8" y="2786.8" width="431.5" height="164.5" rx="28" fill="#2b2090"/><circle cx="2532.3" cy="2869.4" r="106.5" fill="#2b2090"/></g><clipPath id="nce"><circle cx="783" cy="655" r="478"/></clipPath><g transform="translate(2529.2,2864.8) scale(0.1925) translate(-783,-655)"><circle cx="783" cy="655" r="478" fill="#fff"/><g clip-path="url(#nce)"><ellipse cx="850" cy="1000" rx="420" ry="22" fill="#d8d8c8" opacity=".7"/><polygon points="700,520 860,420 1000,600 1100,720 900,760 760,900 700,800" fill="#7a6210"/><polygon points="860,640 1290,690 1290,770 850,730" fill="#8a6c10"/><polygon points="835,400 880,375 1040,258 1280,300 1280,700 1120,715 890,680 820,540 808,480" fill="#e8c41c"/><polygon points="880,375 1040,258 1280,300 1280,420 1120,395 930,405" fill="#c9a71a"/><polygon points="835,400 930,405 1120,395 1180,560 1000,600 830,545 808,480" fill="#f4d420"/><polygon points="830,545 1000,600 1180,560 1280,640 1280,700 1120,715 890,680" fill="#a88414"/><polygon points="1120,395 1280,420 1280,640 1180,560" fill="#dcb81a"/><polygon points="545,470 690,462 760,500 810,570 860,640 780,800 740,960 600,985 530,900 440,830 415,790 450,600 490,510" fill="#c8a81e"/><polygon points="545,470 690,462 760,500 810,570 650,700 560,640" fill="#bc9e1e"/><polygon points="545,470 560,640 650,700 620,860 530,900 440,830 415,790 450,600 490,510" fill="#b0981e"/><polygon points="810,570 860,640 780,800 740,960 640,900 650,700" fill="#c09c18"/><polygon points="530,900 620,860 640,900 740,960 600,985" fill="#f0cc18"/><polygon points="850,700 1120,720 1270,740 1255,900 1090,1025 960,990 770,935 790,800" fill="#f2c818"/><polygon points="850,700 1120,720 1270,740 1130,800 900,780" fill="#fada44"/><polygon points="790,800 900,780 960,990 770,935" fill="#d8ae14"/><polygon points="1130,800 1270,740 1255,900 1090,1025" fill="#e0b414"/></g></g><rect x="2118.5" y="2864.8" width="294.1" height="2.8" fill="#fff"/></svg>
<svg class="b" style="left:1452.6px;top:2719.1px;" width="619.6" height="292.8" viewBox="1452.6 2719.1 619.6 292.8"><defs><filter id="pshf" x="-10%" y="-20%" width="125%" height="150%"><feDropShadow dx="6" dy="9" stdDeviation="7" flood-color="#000" flood-opacity="0.5"/></filter><radialGradient id="cff" cx=".42" cy=".38" r=".72"><stop offset="0" stop-color="#f9da6e"/><stop offset=".7" stop-color="#f5cf58"/><stop offset="1" stop-color="#ecbd40"/></radialGradient><linearGradient id="crf" x1="0" y1="0" x2="1" y2="1"><stop offset="0" stop-color="#f7d560"/><stop offset=".5" stop-color="#e2ad2a"/><stop offset="1" stop-color="#c8921a"/></linearGradient></defs><g filter="url(#pshf)"><rect x="1492.6" y="2782.8" width="433.2" height="165.7" rx="28" fill="#2b2090"/><circle cx="1925.8" cy="2865.5" r="106.4" fill="#2b2090"/></g><clipPath id="ncf"><circle cx="783" cy="655" r="478"/></clipPath><g transform="translate(1927.3,2864.8) scale(0.1925) translate(-783,-655)"><circle cx="783" cy="655" r="478" fill="#fff"/><g clip-path="url(#ncf)"><ellipse cx="850" cy="1000" rx="420" ry="22" fill="#d8d8c8" opacity=".7"/><polygon points="700,520 860,420 1000,600 1100,720 900,760 760,900 700,800" fill="#7a6210"/><polygon points="860,640 1290,690 1290,770 850,730" fill="#8a6c10"/><polygon points="835,400 880,375 1040,258 1280,300 1280,700 1120,715 890,680 820,540 808,480" fill="#e8c41c"/><polygon points="880,375 1040,258 1280,300 1280,420 1120,395 930,405" fill="#c9a71a"/><polygon points="835,400 930,405 1120,395 1180,560 1000,600 830,545 808,480" fill="#f4d420"/><polygon points="830,545 1000,600 1180,560 1280,640 1280,700 1120,715 890,680" fill="#a88414"/><polygon points="1120,395 1280,420 1280,640 1180,560" fill="#dcb81a"/><polygon points="545,470 690,462 760,500 810,570 860,640 780,800 740,960 600,985 530,900 440,830 415,790 450,600 490,510" fill="#c8a81e"/><polygon points="545,470 690,462 760,500 810,570 650,700 560,640" fill="#bc9e1e"/><polygon points="545,470 560,640 650,700 620,860 530,900 440,830 415,790 450,600 490,510" fill="#b0981e"/><polygon points="810,570 860,640 780,800 740,960 640,900 650,700" fill="#c09c18"/><polygon points="530,900 620,860 640,900 740,960 600,985" fill="#f0cc18"/><polygon points="850,700 1120,720 1270,740 1255,900 1090,1025 960,990 770,935 790,800" fill="#f2c818"/><polygon points="850,700 1120,720 1270,740 1130,800 900,780" fill="#fada44"/><polygon points="790,800 900,780 960,990 770,935" fill="#d8ae14"/><polygon points="1130,800 1270,740 1255,900 1090,1025" fill="#e0b414"/></g></g><rect x="1511.4" y="2864.8" width="293.0" height="2.8" fill="#fff"/></svg>
<svg class="b" style="left:905.0px;top:2751.4px;" width="507.6" height="241.4" viewBox="905.0 2751.4 507.6 241.4"><defs><filter id="pshg" x="-10%" y="-20%" width="125%" height="150%"><feDropShadow dx="6" dy="9" stdDeviation="7" flood-color="#000" flood-opacity="0.5"/></filter><radialGradient id="cfg" cx=".42" cy=".38" r=".72"><stop offset="0" stop-color="#f9da6e"/><stop offset=".7" stop-color="#f5cf58"/><stop offset="1" stop-color="#ecbd40"/></radialGradient><linearGradient id="crg" x1="0" y1="0" x2="1" y2="1"><stop offset="0" stop-color="#f7d560"/><stop offset=".5" stop-color="#e2ad2a"/><stop offset="1" stop-color="#c8921a"/></linearGradient></defs><g filter="url(#pshg)"><rect x="945.0" y="2807.0" width="346.9" height="130.0" rx="34" fill="#2b2090"/><circle cx="1291.9" cy="2872.1" r="80.7" fill="#2b2090"/></g><g transform="translate(1290.5,2874.0) scale(0.2854)"><polygon points="0.0,-239.0 234.9,-68.3 145.2,207.8 -145.2,207.8 -234.9,-68.3" fill="#fff02a" stroke="#fff02a" stroke-width="10" stroke-linejoin="round"/><circle r="206" fill="#1a1a1a"/><circle r="184" fill="#fff"/><text x="0" y="38" font-size="125" font-weight="700" font-style="italic" fill="#4472c4" stroke="#4472c4" stroke-width="7" text-anchor="middle" textLength="255" lengthAdjust="spacingAndGlyphs" transform="rotate(4)">IME</text><rect x="-140" y="-22" width="280" height="5" fill="#fff" transform="rotate(4)"/><rect x="-140" y="4" width="280" height="5" fill="#fff" transform="rotate(4)"/><rect x="-140" y="30" width="280" height="5" fill="#fff" transform="rotate(4)"/></g><rect x="979.0" y="2883.4" width="222.3" height="2.8" fill="#fff"/></svg>
<svg class="b" style="left:478.7px;top:2756.2px;" width="495.7" height="241.2" viewBox="478.7 2756.2 495.7 241.2"><defs><filter id="pshh" x="-10%" y="-20%" width="125%" height="150%"><feDropShadow dx="6" dy="9" stdDeviation="7" flood-color="#000" flood-opacity="0.5"/></filter><radialGradient id="cfh" cx=".42" cy=".38" r=".72"><stop offset="0" stop-color="#f9da6e"/><stop offset=".7" stop-color="#f5cf58"/><stop offset="1" stop-color="#ecbd40"/></radialGradient><linearGradient id="crh" x1="0" y1="0" x2="1" y2="1"><stop offset="0" stop-color="#f7d560"/><stop offset=".5" stop-color="#e2ad2a"/><stop offset="1" stop-color="#c8921a"/></linearGradient></defs><g filter="url(#pshh)"><rect x="518.7" y="2811.9" width="335.1" height="126.7" rx="34" fill="#2b2090"/><circle cx="853.8" cy="2876.8" r="80.6" fill="#2b2090"/></g><g transform="translate(853.3,2876.5) scale(0.2834)"><polygon points="0.0,-239.0 234.9,-68.3 145.2,207.8 -145.2,207.8 -234.9,-68.3" fill="#fff02a" stroke="#fff02a" stroke-width="10" stroke-linejoin="round"/><circle r="206" fill="#1a1a1a"/><circle r="184" fill="#fff"/><text x="0" y="38" font-size="125" font-weight="700" font-style="italic" fill="#4472c4" stroke="#4472c4" stroke-width="7" text-anchor="middle" textLength="255" lengthAdjust="spacingAndGlyphs" transform="rotate(4)">IME</text><rect x="-140" y="-22" width="280" height="5" fill="#fff" transform="rotate(4)"/><rect x="-140" y="4" width="280" height="5" fill="#fff" transform="rotate(4)"/><rect x="-140" y="30" width="280" height="5" fill="#fff" transform="rotate(4)"/></g><rect x="552.7" y="2868.1" width="202.6" height="2.8" fill="#fff"/></svg>
<svg class="b" style="left:51.5px;top:2753.6px;" width="496.7" height="241.2" viewBox="51.5 2753.6 496.7 241.2"><defs><filter id="pshi" x="-10%" y="-20%" width="125%" height="150%"><feDropShadow dx="6" dy="9" stdDeviation="7" flood-color="#000" flood-opacity="0.5"/></filter><radialGradient id="cfi" cx=".42" cy=".38" r=".72"><stop offset="0" stop-color="#f9da6e"/><stop offset=".7" stop-color="#f5cf58"/><stop offset="1" stop-color="#ecbd40"/></radialGradient><linearGradient id="cri" x1="0" y1="0" x2="1" y2="1"><stop offset="0" stop-color="#f7d560"/><stop offset=".5" stop-color="#e2ad2a"/><stop offset="1" stop-color="#c8921a"/></linearGradient></defs><g filter="url(#pshi)"><rect x="91.5" y="2809.3" width="336.1" height="128.2" rx="34" fill="#2b2090"/><circle cx="427.6" cy="2874.2" r="80.6" fill="#2b2090"/></g><g transform="translate(427.5,2874.0) scale(0.2834)"><polygon points="0.0,-239.0 234.9,-68.3 145.2,207.8 -145.2,207.8 -234.9,-68.3" fill="#fff02a" stroke="#fff02a" stroke-width="10" stroke-linejoin="round"/><circle r="206" fill="#1a1a1a"/><circle r="184" fill="#fff"/><text x="0" y="38" font-size="125" font-weight="700" font-style="italic" fill="#4472c4" stroke="#4472c4" stroke-width="7" text-anchor="middle" textLength="255" lengthAdjust="spacingAndGlyphs" transform="rotate(4)">IME</text><rect x="-140" y="-22" width="280" height="5" fill="#fff" transform="rotate(4)"/><rect x="-140" y="4" width="280" height="5" fill="#fff" transform="rotate(4)"/><rect x="-140" y="30" width="280" height="5" fill="#fff" transform="rotate(4)"/></g><rect x="121.9" y="2868.1" width="202.6" height="2.8" fill="#fff"/></svg>
<div class="t" style="left:408.0px;top:3543.0px;width:330.0px;height:68px;font-size:42.42px;font-weight:400;color:#8b84e8;justify-content:flex-start;direction:ltr;">www.algocm.com</div>
<div class="t" style="left:992.0px;top:3543.0px;width:333.0px;height:66px;font-size:41.53px;font-weight:400;color:#8b84e8;justify-content:flex-start;direction:ltr;">info@algocm.com</div>
<div class="t" style="left:1617.0px;top:3515.5px;width:278.0px;height:63px;font-size:39.6px;font-weight:400;color:#8b84e8;justify-content:flex-start;direction:ltr;">۰۲۱ ۶۶ ۹۷ ۲۶ ۵۵</div>
<div class="t" style="left:1683.0px;top:3572.5px;width:209.0px;height:65px;font-size:40.74px;font-weight:400;color:#8b84e8;justify-content:flex-start;direction:ltr;">۶۶ ۹۷ ۲۸ ۰۴</div>
<div class="t" style="left:1617.0px;top:3586.5px;width:59.0px;height:41px;font-size:25.59px;font-weight:400;color:#8b84e8;justify-content:flex-end;direction:rtl;">فکس</div>
<div class="t" style="left:2157.0px;top:3528.5px;width:376.0px;height:47px;font-size:29.07px;font-weight:400;color:#8b84e8;justify-content:flex-start;direction:rtl;">خیابان ولیعصر، خیابان بزرگمهر،</div>
<div class="t" style="left:2161.0px;top:3580.0px;width:372.0px;height:46px;font-size:28.57px;font-weight:400;color:#8b84e8;justify-content:flex-start;direction:rtl;">پلاک ۱۶، طبقه چهارم، واحد ۴۱۰</div>
<svg class="b" style="left:300.0px;top:3536.0px;" width="80.0" height="80.0" viewBox="0 0 80.00 80.00"><g fill="none" stroke="#8b84e8" stroke-width="4"><circle cx="40" cy="40" r="34"/><ellipse cx="40" cy="40" rx="16" ry="34"/><line x1="40" y1="6" x2="40" y2="74"/><path d="M12,20 Q40,32 68,20"/><path d="M12,60 Q40,48 68,60"/></g><rect x="2" y="30" width="76" height="20" fill="#2b2090"/><text x="40" y="47" font-size="21" font-weight="700" fill="#8b84e8" text-anchor="middle" letter-spacing="2">www</text></svg>
<svg class="b" style="left:867.0px;top:3558.0px;" width="70.0" height="46.0" viewBox="0 0 70.00 46.00"><rect x="0" y="0" width="70" height="46" fill="#8b84e8"/><path d="M0,0 L35,26 L70,0" fill="none" stroke="#2b2090" stroke-width="4"/><path d="M0,46 L26,22 M70,46 L44,22" stroke="#2b2090" stroke-width="4" fill="none"/></svg>
<svg class="b" style="left:1500.0px;top:3544.0px;" width="64.0" height="68.0" viewBox="0 0 64.00 68.00"><path d="M14,2 C6,4 0,12 2,24 C6,44 22,62 44,64 C54,65 60,60 62,52 L48,42 C44,44 42,48 38,48 C28,44 20,34 18,26 C18,22 22,20 26,18 L18,2 Z" fill="#8b84e8"/></svg>
<svg class="b" style="left:2079.0px;top:3545.0px;" width="44.0" height="62.0" viewBox="0 0 44.00 62.00"><path d="M22,0 C9,0 0,9 0,21 C0,36 16,48 22,62 C28,48 44,36 44,21 C44,9 35,0 22,0 Z" fill="#8b84e8"/><circle cx="22" cy="21" r="8" fill="#2b2090"/></svg>
<svg class="b" style="left:0;top:0;pointer-events:none" width="2838" height="3687" viewBox="0 0 2838 3687"><text transform="translate(567.5,174.2) scale(1,0.750)" fill="#fff" font-size="43.74" font-weight="700" text-anchor="middle" font-style="italic" stroke="#fff" stroke-width="1.31" stroke-linejoin="round" paint-order="stroke" direction="rtl">شرکت سبدگردان الگوریتم</text><text transform="translate(565.3,227.6) scale(1,0.784)" fill="#fff" font-size="45.65" font-weight="400" text-anchor="middle" font-style="italic" stroke="#fff" stroke-width="1.60" stroke-linejoin="round" paint-order="stroke" direction="ltr">ALGORITHM CAPITAL</text><text transform="translate(2177.9,187.0) scale(1,1.209)" fill="#fff" font-size="80.38" font-weight="700" text-anchor="middle" stroke="#fff" stroke-width="3.62" stroke-linejoin="round" paint-order="stroke" direction="rtl">گزارش هفتگی طلا</text><text transform="translate(1467.4,177.6) scale(1,1.429)" fill="#ffb71b" font-size="46.06" font-weight="700" text-anchor="middle" stroke="#ffb71b" stroke-width="0.92" stroke-linejoin="round" paint-order="stroke" direction="rtl">(هفته منتهی به  ۱۴۰۲/۰۴/۰۲)</text><text transform="translate(2558.5,333.8) scale(1,0.845)" fill="#2b2090" font-size="73.11" font-weight="700" text-anchor="middle" stroke="#2b2090" stroke-width="2.92" stroke-linejoin="round" paint-order="stroke" direction="rtl">جهانی</text><text transform="translate(2081.2,341.1) scale(1,1.197)" fill="#2b2090" font-size="56.51" font-weight="700" text-anchor="middle" stroke="#2b2090" stroke-width="2.26" stroke-linejoin="round" paint-order="stroke" direction="rtl">اخبار و رویدادهای مهم</text><text transform="translate(827.8,371.5) scale(1,1.026)" fill="#2b2090" font-size="19.90" font-weight="700" text-anchor="middle" stroke="#2b2090" stroke-width="0.50" stroke-linejoin="round" paint-order="stroke" direction="rtl">نرخ اوراق اسناد خزانه ۱۰ ساله آمریکا</text><text transform="translate(962.8,705.0) scale(1,1.068)" fill="#2b2090" font-size="21.24" font-weight="700" text-anchor="middle" stroke="#2b2090" stroke-width="0.53" stroke-linejoin="round" paint-order="stroke" direction="rtl">انس طلا</text><text transform="translate(1203.5,517.5) scale(1,1.135)" fill="#fff" font-size="46.87" font-weight="700" text-anchor="middle" stroke="#fff" stroke-width="1.41" stroke-linejoin="round" paint-order="stroke" direction="rtl">جمعــــه</text><text transform="translate(1553.5,529.0) scale(1,1.263)" fill="#fff" font-size="48.46" font-weight="700" text-anchor="middle" stroke="#fff" stroke-width="1.45" stroke-linejoin="round" paint-order="stroke" direction="rtl">پنجشنبــه</text><text transform="translate(1900.0,529.4) scale(1,1.297)" fill="#fff" font-size="42.61" font-weight="700" text-anchor="middle" stroke="#fff" stroke-width="1.28" stroke-linejoin="round" paint-order="stroke" direction="rtl">چهارشنبــه</text><text transform="translate(2233.2,522.0) scale(1,0.962)" fill="#fff" font-size="41.45" font-weight="700" text-anchor="middle" stroke="#fff" stroke-width="1.24" stroke-linejoin="round" paint-order="stroke" direction="rtl">سه‌شنبـــه</text><text transform="translate(2572.8,527.1) scale(1,1.296)" fill="#fff" font-size="41.06" font-weight="700" text-anchor="middle" stroke="#fff" stroke-width="1.23" stroke-linejoin="round" paint-order="stroke" direction="rtl">دوشنبـــه</text><text transform="translate(1206.4,575.7) scale(1,0.952)" fill="#fff" font-size="36.20" font-weight="400" text-anchor="middle" opacity="0.88" direction="ltr">۲۰۲۳/۰۶/۳۰</text><text transform="translate(1554.0,575.7) scale(1,1.007)" fill="#fff" font-size="34.22" font-weight="400" text-anchor="middle" opacity="0.88" direction="ltr">۲۰۲۳/۰۶/۲۹</text><text transform="translate(1893.6,575.7) scale(1,0.996)" fill="#fff" font-size="34.61" font-weight="400" text-anchor="middle" opacity="0.88" direction="ltr">۲۰۲۳/۰۶/۲۸</text><text transform="translate(2226.8,575.7) scale(1,0.992)" fill="#fff" font-size="34.75" font-weight="400" text-anchor="middle" opacity="0.88" direction="ltr">۲۰۲۳/۰۶/۲۷</text><text transform="translate(2570.4,575.7) scale(1,0.986)" fill="#fff" font-size="34.96" font-weight="400" text-anchor="middle" opacity="0.88" direction="ltr">۲۰۲۳/۰۶/۲۶</text><text transform="translate(1178.3,662.6) scale(0.911,1.12)" fill="#2b2090" font-size="29" font-weight="400" text-anchor="middle" stroke="#2b2090" stroke-width="0.49" stroke-linejoin="round" direction="rtl">* گزارش تولید ناخالص</text><text transform="translate(1167.7,732.9) scale(1.044,1.12)" fill="#2b2090" font-size="29" font-weight="400" text-anchor="middle" stroke="#2b2090" stroke-width="0.49" stroke-linejoin="round" direction="rtl">داخلی انگلســـتان</text><text transform="translate(1178.3,859.7) scale(1.036,1.12)" fill="#2b2090" font-size="29" font-weight="400" text-anchor="middle" stroke="#2b2090" stroke-width="0.49" stroke-linejoin="round" direction="rtl">* اعلام تولید ناخالص</text><text transform="translate(1166.0,927.0) scale(1.077,1.12)" fill="#2b2090" font-size="29" font-weight="400" text-anchor="middle" stroke="#2b2090" stroke-width="0.49" stroke-linejoin="round" direction="rtl">داخلی آمریکــــــا</text><text transform="translate(1483.9,662.6) scale(1.169,1.12)" fill="#2b2090" font-size="29" font-weight="400" text-anchor="middle" stroke="#2b2090" stroke-width="0.49" stroke-linejoin="round" direction="rtl">* اعلام  شاخص  قیمت</text><text transform="translate(1465.2,714.0) scale(1.091,1.12)" fill="#2b2090" font-size="29" font-weight="400" text-anchor="middle" stroke="#2b2090" stroke-width="0.49" stroke-linejoin="round" direction="rtl">مصرف کننده در آلمان</text><text transform="translate(1566.2,762.6) scale(1.358,1.12)" fill="#2b2090" font-size="29" font-weight="400" text-anchor="middle" stroke="#2b2090" stroke-width="0.49" stroke-linejoin="round" direction="rtl">(CPI)</text><text transform="translate(1508.8,864.2) scale(1.234,1.12)" fill="#2b2090" font-size="29" font-weight="400" text-anchor="middle" stroke="#2b2090" stroke-width="0.49" stroke-linejoin="round" direction="rtl">* اعـــلام موجودی</text><text transform="translate(1493.2,913.9) scale(1.246,1.12)" fill="#2b2090" font-size="29" font-weight="400" text-anchor="middle" stroke="#2b2090" stroke-width="0.49" stroke-linejoin="round" direction="rtl">نفت خام آمریکا</text><text transform="translate(1824.4,654.0) scale(1.001,1.12)" fill="#2b2090" font-size="29" font-weight="400" text-anchor="middle" stroke="#2b2090" stroke-width="0.49" stroke-linejoin="round" direction="rtl">* گزارش فروش خانه های</text><text transform="translate(1812.6,705.5) scale(1.173,1.12)" fill="#2b2090" font-size="29" font-weight="400" text-anchor="middle" stroke="#2b2090" stroke-width="0.49" stroke-linejoin="round" direction="rtl">جدیـــــد در آمریکـــا</text><text transform="translate(1831.7,856.8) scale(1.142,1.12)" fill="#2b2090" font-size="29" font-weight="400" text-anchor="middle" stroke="#2b2090" stroke-width="0.49" stroke-linejoin="round" direction="rtl">* اعلام تراز تجاری کالا</text><text transform="translate(1812.7,911.0) scale(1.127,1.12)" fill="#2b2090" font-size="29" font-weight="400" text-anchor="middle" stroke="#2b2090" stroke-width="0.49" stroke-linejoin="round" direction="rtl">در آمریکــــــــــــــــا</text><text transform="translate(2169.2,661.8) scale(1.216,1.12)" fill="#2b2090" font-size="29" font-weight="400" text-anchor="middle" stroke="#2b2090" stroke-width="0.49" stroke-linejoin="round" direction="rtl">* اعلام شاخص اعتماد</text><text transform="translate(2152.6,720.4) scale(1.136,1.12)" fill="#2b2090" font-size="29" font-weight="400" text-anchor="middle" stroke="#2b2090" stroke-width="0.49" stroke-linejoin="round" direction="rtl">مصرف کننـــدگان به</text><text transform="translate(2148.5,776.2) scale(1.214,1.12)" fill="#2b2090" font-size="29" font-weight="400" text-anchor="middle" stroke="#2b2090" stroke-width="0.49" stroke-linejoin="round" direction="rtl">فعالیتهای  اقتصادی</text><text transform="translate(2232.3,832.0) scale(1.139,1.12)" fill="#2b2090" font-size="29" font-weight="400" text-anchor="middle" stroke="#2b2090" stroke-width="0.49" stroke-linejoin="round" direction="rtl">آمریکا</text><text transform="translate(2525.3,664.6) scale(1.047,1.12)" fill="#2b2090" font-size="29" font-weight="400" text-anchor="middle" stroke="#2b2090" stroke-width="0.49" stroke-linejoin="round" direction="rtl">* گزارش ارزیابی کسب</text><text transform="translate(2513.9,718.7) scale(1.198,1.12)" fill="#2b2090" font-size="29" font-weight="400" text-anchor="middle" stroke="#2b2090" stroke-width="0.49" stroke-linejoin="round" direction="rtl">و کار در آلمــــــان</text><text transform="translate(2509.4,859.9) scale(1.078,1.12)" fill="#2b2090" font-size="29" font-weight="400" text-anchor="middle" stroke="#2b2090" stroke-width="0.49" stroke-linejoin="round" direction="rtl">* گزارش ارزیابی وضعیت</text><text transform="translate(2491.5,910.1) scale(1.409,1.12)" fill="#2b2090" font-size="29" font-weight="400" text-anchor="middle" stroke="#2b2090" stroke-width="0.49" stroke-linejoin="round" direction="rtl">تجاری آلمـــــــان</text><text transform="translate(2584.1,1126.7) scale(1,1.029)" fill="#2b2090" font-size="63.67" font-weight="700" text-anchor="middle" stroke="#2b2090" stroke-width="2.55" stroke-linejoin="round" paint-order="stroke" direction="rtl">داخلی</text><text transform="translate(2081.2,1124.1) scale(1,1.197)" fill="#2b2090" font-size="56.51" font-weight="700" text-anchor="middle" stroke="#2b2090" stroke-width="2.26" stroke-linejoin="round" paint-order="stroke" direction="rtl">اخبار و رویدادهای مهم</text><text transform="translate(2072.8,1317.4) scale(1,1.181)" fill="#2b2090" font-size="55.27" font-weight="400" text-anchor="middle" stroke="#2b2090" stroke-width="0.66" stroke-linejoin="round" paint-order="stroke" direction="rtl">کاهش یک درصــدی قیمت سکه امامی در هفتـــه اخیر</text><text transform="translate(2059.2,1459.9) scale(1,1.106)" fill="#2b2090" font-size="53.80" font-weight="400" text-anchor="middle" stroke="#2b2090" stroke-width="0.65" stroke-linejoin="round" paint-order="stroke" direction="rtl">گفت وگوی معاون مسئول سیاست خارجی اتحادیه اروپا</text><text transform="translate(2277.9,1562.7) scale(1,1.091)" fill="#2b2090" font-size="54.37" font-weight="400" text-anchor="middle" stroke="#2b2090" stroke-width="0.65" stroke-linejoin="round" paint-order="stroke" direction="rtl">با معاون وزیر خارجه ایران در دوحه</text><text transform="translate(660.9,1231.2) scale(1,1.197)" fill="#2b2090" font-size="41.52" font-weight="700" text-anchor="middle" stroke="#2b2090" stroke-width="1.25" stroke-linejoin="round" paint-order="stroke" direction="rtl">نمودار یورو به دلار</text><text transform="translate(2495.5,1921.2) scale(1,1.292)" fill="#2b2090" font-size="67.75" font-weight="700" text-anchor="middle" stroke="#2b2090" stroke-width="3.05" stroke-linejoin="round" paint-order="stroke" direction="rtl">سکه امامی</text><text transform="translate(1149.5,1912.5) scale(1,1.222)" fill="#2b2090" font-size="65.78" font-weight="700" text-anchor="middle" stroke="#2b2090" stroke-width="2.96" stroke-linejoin="round" paint-order="stroke" direction="rtl">ربع سکــه</text><text transform="translate(2487.1,2708.2) scale(1,1.174)" fill="#2b2090" font-size="65.52" font-weight="700" text-anchor="middle" stroke="#2b2090" stroke-width="2.95" stroke-linejoin="round" paint-order="stroke" direction="rtl">طلای آبشده</text><text transform="translate(1142.5,2698.3) scale(1,1.181)" fill="#2b2090" font-size="66.07" font-weight="700" text-anchor="middle" stroke="#2b2090" stroke-width="2.97" stroke-linejoin="round" paint-order="stroke" direction="rtl">بورس کالا</text><text transform="translate(707.9,2697.7) scale(1,1.219)" fill="#2b2090" font-size="44.82" font-weight="700" text-anchor="middle" stroke="#2b2090" stroke-width="1.79" stroke-linejoin="round" paint-order="stroke" direction="rtl">گواهی سکه ـ رفاه</text><text transform="translate(2303.4,2041.9) scale(1,1.123)" fill="#fff" font-size="35.40" font-weight="700" text-anchor="middle" stroke="#fff" stroke-width="0.71" stroke-linejoin="round" paint-order="stroke" direction="rtl">رشد ماه گذشته</text><text transform="translate(2324.5,2121.1) scale(1,1.162)" fill="#ff1717" font-size="40.11" font-weight="700" text-anchor="middle" stroke="#ff1717" stroke-width="1.20" stroke-linejoin="round" paint-order="stroke" direction="ltr">-۱۲%</text><text transform="translate(1707.4,2041.9) scale(1,1.091)" fill="#fff" font-size="36.43" font-weight="700" text-anchor="middle" stroke="#fff" stroke-width="0.73" stroke-linejoin="round" paint-order="stroke" direction="rtl">رشد هفته گذشته</text><text transform="translate(1696.2,2121.1) scale(1,1.193)" fill="#ff1717" font-size="39.08" font-weight="700" text-anchor="middle" stroke="#ff1717" stroke-width="1.17" stroke-linejoin="round" paint-order="stroke" direction="ltr">-۱%</text><text transform="translate(948.0,2051.0) scale(1,1.056)" fill="#fff" font-size="35.41" font-weight="700" text-anchor="middle" stroke="#fff" stroke-width="0.71" stroke-linejoin="round" paint-order="stroke" direction="rtl">رشد ماه گذشته</text><text transform="translate(945.6,2130.8) scale(1,1.051)" fill="#ff1717" font-size="45.42" font-weight="700" text-anchor="middle" stroke="#ff1717" stroke-width="1.36" stroke-linejoin="round" paint-order="stroke" direction="ltr">-۸%</text><text transform="translate(323.6,2048.4) scale(1,0.981)" fill="#fff" font-size="36.35" font-weight="700" text-anchor="middle" stroke="#fff" stroke-width="0.73" stroke-linejoin="round" paint-order="stroke" direction="rtl">رشد هفته گذشته</text><text transform="translate(309.1,2135.1) scale(1,1.153)" fill="#14d673" font-size="40.06" font-weight="700" text-anchor="middle" stroke="#14d673" stroke-width="1.20" stroke-linejoin="round" paint-order="stroke" direction="ltr">۲%</text><text transform="translate(2268.8,2845.0) scale(1,1.081)" fill="#fff" font-size="35.33" font-weight="700" text-anchor="middle" stroke="#fff" stroke-width="0.71" stroke-linejoin="round" paint-order="stroke" direction="rtl">رشد ماه گذشته</text><text transform="translate(2290.2,2925.1) scale(1,1.025)" fill="#ff1717" font-size="45.48" font-weight="700" text-anchor="middle" stroke="#ff1717" stroke-width="1.36" stroke-linejoin="round" paint-order="stroke" direction="ltr">-۸%</text><text transform="translate(1660.6,2844.7) scale(1,1.087)" fill="#fff" font-size="36.57" font-weight="700" text-anchor="middle" stroke="#fff" stroke-width="0.73" stroke-linejoin="round" paint-order="stroke" direction="rtl">رشد هفته گذشته</text><text transform="translate(1652.1,2925.1) scale(1,1.282)" fill="#14d673" font-size="36.36" font-weight="700" text-anchor="middle" stroke="#14d673" stroke-width="1.09" stroke-linejoin="round" paint-order="stroke" direction="ltr">۱%</text><text transform="translate(1084.3,2841.9) scale(1,0.855)" fill="#fff" font-size="24.49" font-weight="700" text-anchor="middle" stroke="#fff" stroke-width="0.49" stroke-linejoin="round" paint-order="stroke" direction="rtl">میانگین حجم معاملات</text><text transform="translate(1088.0,2869.7) scale(1,0.761)" fill="#fff" font-size="24.46" font-weight="700" text-anchor="middle" stroke="#fff" stroke-width="0.49" stroke-linejoin="round" paint-order="stroke" direction="rtl">در ماه گذشته</text><text transform="translate(1090.1,2925.7) scale(1,1.234)" fill="#ffc50a" font-size="35.81" font-weight="700" text-anchor="middle" stroke="#ffc50a" stroke-width="1.07" stroke-linejoin="round" paint-order="stroke" direction="ltr">۱۴۷,۱۳۵</text><text transform="translate(648.6,2849.7) scale(1,0.858)" fill="#fff" font-size="24.93" font-weight="700" text-anchor="middle" stroke="#fff" stroke-width="0.50" stroke-linejoin="round" paint-order="stroke" direction="rtl">رشد ماه گذشته</text><text transform="translate(681.0,2917.7) scale(1,1.261)" fill="#ff1717" font-size="40.98" font-weight="700" text-anchor="middle" stroke="#ff1717" stroke-width="1.23" stroke-linejoin="round" paint-order="stroke" direction="ltr">-۱۲.۶%</text><text transform="translate(227.5,2848.5) scale(1,0.860)" fill="#fff" font-size="25.49" font-weight="700" text-anchor="middle" stroke="#fff" stroke-width="0.51" stroke-linejoin="round" paint-order="stroke" direction="rtl">رشد هفته گذشته</text><text transform="translate(210.0,2917.7) scale(1,1.108)" fill="#ff1717" font-size="46.64" font-weight="700" text-anchor="middle" stroke="#ff1717" stroke-width="1.40" stroke-linejoin="round" paint-order="stroke" direction="ltr">-۳.۶%</text></svg>
</body></html>
